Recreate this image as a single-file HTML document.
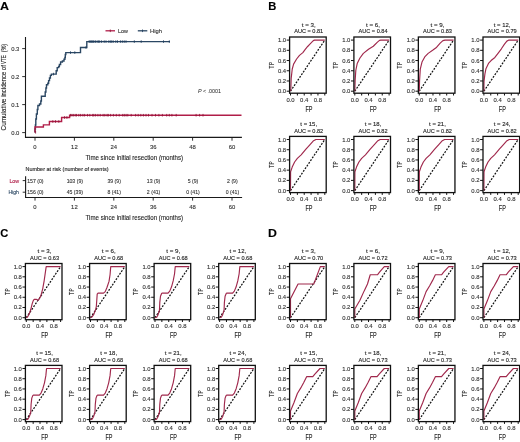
<!DOCTYPE html>
<html><head><meta charset="utf-8"><title>Figure</title>
<style>
html,body{margin:0;padding:0;background:#fff;}
body{width:520px;height:442px;overflow:hidden;}
svg{display:block;font-family:"Liberation Sans", sans-serif;filter:blur(0.3px);}
text{stroke-width:0.12px;paint-order:stroke;}
</style></head>
<body>
<svg width="520" height="442" viewBox="0 0 520 442">
<rect width="520" height="442" fill="#fff"/>
<text x="0" y="9.7" font-size="11.2" textLength="9" lengthAdjust="spacingAndGlyphs" font-weight="bold" fill="#000" stroke="#000">A</text>
<text x="268.3" y="9.8" font-size="11.2" font-weight="bold" fill="#000" stroke="#000">B</text>
<text x="0.2" y="236.6" font-size="11.2" font-weight="bold" fill="#000" stroke="#000">C</text>
<text x="268.1" y="236.6" font-size="11.2" textLength="8.9" lengthAdjust="spacingAndGlyphs" font-weight="bold" fill="#000" stroke="#000">D</text>
<path d="M25.5,37 V137.4 H241.9" fill="none" stroke="#1a1a1a" stroke-width="1.1"/>
<line x1="22.2" y1="132.6" x2="25.5" y2="132.6" stroke="#1a1a1a" stroke-width="0.9"/>
<text x="19.4" y="134.7" font-size="5.9" text-anchor="end" fill="#333" stroke="#333">0.0</text>
<line x1="22.2" y1="104.6" x2="25.5" y2="104.6" stroke="#1a1a1a" stroke-width="0.9"/>
<text x="19.4" y="106.7" font-size="5.9" text-anchor="end" fill="#333" stroke="#333">0.1</text>
<line x1="22.2" y1="76.6" x2="25.5" y2="76.6" stroke="#1a1a1a" stroke-width="0.9"/>
<text x="19.4" y="78.7" font-size="5.9" text-anchor="end" fill="#333" stroke="#333">0.2</text>
<line x1="22.2" y1="48.6" x2="25.5" y2="48.6" stroke="#1a1a1a" stroke-width="0.9"/>
<text x="19.4" y="50.7" font-size="5.9" text-anchor="end" fill="#333" stroke="#333">0.3</text>
<line x1="35" y1="137.4" x2="35" y2="140.7" stroke="#1a1a1a" stroke-width="0.9"/>
<text x="35" y="148.7" font-size="5.9" text-anchor="middle" fill="#333" stroke="#333">0</text>
<line x1="74.4" y1="137.4" x2="74.4" y2="140.7" stroke="#1a1a1a" stroke-width="0.9"/>
<text x="74.4" y="148.7" font-size="5.9" text-anchor="middle" fill="#333" stroke="#333">12</text>
<line x1="113.8" y1="137.4" x2="113.8" y2="140.7" stroke="#1a1a1a" stroke-width="0.9"/>
<text x="113.8" y="148.7" font-size="5.9" text-anchor="middle" fill="#333" stroke="#333">24</text>
<line x1="153.2" y1="137.4" x2="153.2" y2="140.7" stroke="#1a1a1a" stroke-width="0.9"/>
<text x="153.2" y="148.7" font-size="5.9" text-anchor="middle" fill="#333" stroke="#333">36</text>
<line x1="192.6" y1="137.4" x2="192.6" y2="140.7" stroke="#1a1a1a" stroke-width="0.9"/>
<text x="192.6" y="148.7" font-size="5.9" text-anchor="middle" fill="#333" stroke="#333">48</text>
<line x1="232" y1="137.4" x2="232" y2="140.7" stroke="#1a1a1a" stroke-width="0.9"/>
<text x="232" y="148.7" font-size="5.9" text-anchor="middle" fill="#333" stroke="#333">60</text>
<text x="85.5" y="159.6" font-size="8" textLength="97.6" lengthAdjust="spacingAndGlyphs" fill="#222" stroke="#222">Time since initial resection (months)</text>
<g transform="translate(6.3,130.5) rotate(-90)"><text x="0.1" y="0" font-size="7.4" textLength="31.8" lengthAdjust="spacingAndGlyphs" fill="#222" stroke="#222">Cumulative</text><text x="33.7" y="0" font-size="7.4" textLength="25.2" lengthAdjust="spacingAndGlyphs" fill="#222" stroke="#222">incidence</text><text x="60.3" y="0" font-size="7.4" textLength="5.2" lengthAdjust="spacingAndGlyphs" fill="#222" stroke="#222">of</text><text x="66.4" y="0" font-size="7.4" textLength="8.9" lengthAdjust="spacingAndGlyphs" fill="#222" stroke="#222">VTE</text><text x="78.2" y="0" font-size="7.4" textLength="8.5" lengthAdjust="spacingAndGlyphs" fill="#222" stroke="#222">(%)</text></g>
<path d="M35,132.6 V129 H35.4 V125 H35.8 V119 H36.4 V114 H37.3 V109.5 H37.9 V105.5 H39.5 V104 H40.8 V101 H41.4 V96.3 H45.2 V92 H45.9 V88 H46.5 V84.8 H47.8 V83.2 H48.6 V80.6 H49.5 V78 H50.4 V75.4 H51.4 V74.1 H56.2 V70.7 H57.2 V67.6 H58.6 V66.5 H59.4 V64.5 H60.6 V62 H62.4 V61 H64 V59.3 H64.9 V57.5 H65.3 V54.5 H65.8 V52.6 H80.5 V47.5 H86.8 V41.6 H170" fill="none" stroke="#2b4763" stroke-width="1.4"/>
<path d="M35,132.6 V127 H43.4 V124.9 H49.4 V121.5 H61.6 V117.5 H69.6 V115.2 H241.5" fill="none" stroke="#b01d48" stroke-width="1.4"/>
<line x1="89.1" y1="40.3" x2="89.1" y2="42.9" stroke="#1c3a5c" stroke-width="0.8"/>
<line x1="90.1" y1="40.3" x2="90.1" y2="42.9" stroke="#1c3a5c" stroke-width="0.8"/>
<line x1="91.1" y1="40.3" x2="91.1" y2="42.9" stroke="#1c3a5c" stroke-width="0.8"/>
<line x1="92" y1="40.3" x2="92" y2="42.9" stroke="#1c3a5c" stroke-width="0.8"/>
<line x1="93" y1="40.3" x2="93" y2="42.9" stroke="#1c3a5c" stroke-width="0.8"/>
<line x1="93.9" y1="40.3" x2="93.9" y2="42.9" stroke="#1c3a5c" stroke-width="0.8"/>
<line x1="95.4" y1="40.3" x2="95.4" y2="42.9" stroke="#1c3a5c" stroke-width="0.8"/>
<line x1="97.1" y1="40.3" x2="97.1" y2="42.9" stroke="#1c3a5c" stroke-width="0.8"/>
<line x1="98.4" y1="40.3" x2="98.4" y2="42.9" stroke="#1c3a5c" stroke-width="0.8"/>
<line x1="99.7" y1="40.3" x2="99.7" y2="42.9" stroke="#1c3a5c" stroke-width="0.8"/>
<line x1="101.6" y1="40.3" x2="101.6" y2="42.9" stroke="#1c3a5c" stroke-width="0.8"/>
<line x1="104.2" y1="40.3" x2="104.2" y2="42.9" stroke="#1c3a5c" stroke-width="0.8"/>
<line x1="106" y1="40.3" x2="106" y2="42.9" stroke="#1c3a5c" stroke-width="0.8"/>
<line x1="108.8" y1="40.3" x2="108.8" y2="42.9" stroke="#1c3a5c" stroke-width="0.8"/>
<line x1="110.3" y1="40.3" x2="110.3" y2="42.9" stroke="#1c3a5c" stroke-width="0.8"/>
<line x1="111.7" y1="40.3" x2="111.7" y2="42.9" stroke="#1c3a5c" stroke-width="0.8"/>
<line x1="113.2" y1="40.3" x2="113.2" y2="42.9" stroke="#1c3a5c" stroke-width="0.8"/>
<line x1="115.8" y1="40.3" x2="115.8" y2="42.9" stroke="#1c3a5c" stroke-width="0.8"/>
<line x1="117.5" y1="40.3" x2="117.5" y2="42.9" stroke="#1c3a5c" stroke-width="0.8"/>
<line x1="120.4" y1="40.3" x2="120.4" y2="42.9" stroke="#1c3a5c" stroke-width="0.8"/>
<line x1="122.3" y1="40.3" x2="122.3" y2="42.9" stroke="#1c3a5c" stroke-width="0.8"/>
<line x1="124.2" y1="40.3" x2="124.2" y2="42.9" stroke="#1c3a5c" stroke-width="0.8"/>
<line x1="126" y1="40.3" x2="126" y2="42.9" stroke="#1c3a5c" stroke-width="0.8"/>
<line x1="134.3" y1="40.3" x2="134.3" y2="42.9" stroke="#1c3a5c" stroke-width="0.8"/>
<line x1="141.2" y1="40.3" x2="141.2" y2="42.9" stroke="#1c3a5c" stroke-width="0.8"/>
<line x1="163.5" y1="40.3" x2="163.5" y2="42.9" stroke="#1c3a5c" stroke-width="0.8"/>
<line x1="169.3" y1="40.3" x2="169.3" y2="42.9" stroke="#1c3a5c" stroke-width="0.8"/>
<line x1="53.5" y1="72.8" x2="53.5" y2="75.4" stroke="#1c3a5c" stroke-width="0.8"/>
<line x1="70.5" y1="51.3" x2="70.5" y2="53.9" stroke="#1c3a5c" stroke-width="0.8"/>
<line x1="74.8" y1="51.3" x2="74.8" y2="53.9" stroke="#1c3a5c" stroke-width="0.8"/>
<line x1="86" y1="46.2" x2="86" y2="48.8" stroke="#1c3a5c" stroke-width="0.8"/>
<line x1="70.5" y1="113.9" x2="70.5" y2="116.5" stroke="#8e1233" stroke-width="0.8"/>
<line x1="71.9" y1="113.9" x2="71.9" y2="116.5" stroke="#8e1233" stroke-width="0.8"/>
<line x1="73.3" y1="113.9" x2="73.3" y2="116.5" stroke="#8e1233" stroke-width="0.8"/>
<line x1="75.2" y1="113.9" x2="75.2" y2="116.5" stroke="#8e1233" stroke-width="0.8"/>
<line x1="76.5" y1="113.9" x2="76.5" y2="116.5" stroke="#8e1233" stroke-width="0.8"/>
<line x1="78.8" y1="113.9" x2="78.8" y2="116.5" stroke="#8e1233" stroke-width="0.8"/>
<line x1="80.6" y1="113.9" x2="80.6" y2="116.5" stroke="#8e1233" stroke-width="0.8"/>
<line x1="82.9" y1="113.9" x2="82.9" y2="116.5" stroke="#8e1233" stroke-width="0.8"/>
<line x1="84.6" y1="113.9" x2="84.6" y2="116.5" stroke="#8e1233" stroke-width="0.8"/>
<line x1="87.5" y1="113.9" x2="87.5" y2="116.5" stroke="#8e1233" stroke-width="0.8"/>
<line x1="89.8" y1="113.9" x2="89.8" y2="116.5" stroke="#8e1233" stroke-width="0.8"/>
<line x1="92.7" y1="113.9" x2="92.7" y2="116.5" stroke="#8e1233" stroke-width="0.8"/>
<line x1="93.8" y1="113.9" x2="93.8" y2="116.5" stroke="#8e1233" stroke-width="0.8"/>
<line x1="95.6" y1="113.9" x2="95.6" y2="116.5" stroke="#8e1233" stroke-width="0.8"/>
<line x1="97.9" y1="113.9" x2="97.9" y2="116.5" stroke="#8e1233" stroke-width="0.8"/>
<line x1="100.2" y1="113.9" x2="100.2" y2="116.5" stroke="#8e1233" stroke-width="0.8"/>
<line x1="103.1" y1="113.9" x2="103.1" y2="116.5" stroke="#8e1233" stroke-width="0.8"/>
<line x1="104.8" y1="113.9" x2="104.8" y2="116.5" stroke="#8e1233" stroke-width="0.8"/>
<line x1="107.1" y1="113.9" x2="107.1" y2="116.5" stroke="#8e1233" stroke-width="0.8"/>
<line x1="108.3" y1="113.9" x2="108.3" y2="116.5" stroke="#8e1233" stroke-width="0.8"/>
<line x1="110.6" y1="113.9" x2="110.6" y2="116.5" stroke="#8e1233" stroke-width="0.8"/>
<line x1="113.4" y1="113.9" x2="113.4" y2="116.5" stroke="#8e1233" stroke-width="0.8"/>
<line x1="116.3" y1="113.9" x2="116.3" y2="116.5" stroke="#8e1233" stroke-width="0.8"/>
<line x1="119.2" y1="113.9" x2="119.2" y2="116.5" stroke="#8e1233" stroke-width="0.8"/>
<line x1="122.7" y1="113.9" x2="122.7" y2="116.5" stroke="#8e1233" stroke-width="0.8"/>
<line x1="124.3" y1="113.9" x2="124.3" y2="116.5" stroke="#8e1233" stroke-width="0.8"/>
<line x1="126.1" y1="113.9" x2="126.1" y2="116.5" stroke="#8e1233" stroke-width="0.8"/>
<line x1="127.8" y1="113.9" x2="127.8" y2="116.5" stroke="#8e1233" stroke-width="0.8"/>
<line x1="131.2" y1="113.9" x2="131.2" y2="116.5" stroke="#8e1233" stroke-width="0.8"/>
<line x1="135.6" y1="113.9" x2="135.6" y2="116.5" stroke="#8e1233" stroke-width="0.8"/>
<line x1="138.2" y1="113.9" x2="138.2" y2="116.5" stroke="#8e1233" stroke-width="0.8"/>
<line x1="140.8" y1="113.9" x2="140.8" y2="116.5" stroke="#8e1233" stroke-width="0.8"/>
<line x1="143.4" y1="113.9" x2="143.4" y2="116.5" stroke="#8e1233" stroke-width="0.8"/>
<line x1="146" y1="113.9" x2="146" y2="116.5" stroke="#8e1233" stroke-width="0.8"/>
<line x1="148.5" y1="113.9" x2="148.5" y2="116.5" stroke="#8e1233" stroke-width="0.8"/>
<line x1="152" y1="113.9" x2="152" y2="116.5" stroke="#8e1233" stroke-width="0.8"/>
<line x1="155.5" y1="113.9" x2="155.5" y2="116.5" stroke="#8e1233" stroke-width="0.8"/>
<line x1="158.9" y1="113.9" x2="158.9" y2="116.5" stroke="#8e1233" stroke-width="0.8"/>
<line x1="162.4" y1="113.9" x2="162.4" y2="116.5" stroke="#8e1233" stroke-width="0.8"/>
<line x1="166.7" y1="113.9" x2="166.7" y2="116.5" stroke="#8e1233" stroke-width="0.8"/>
<line x1="169.3" y1="113.9" x2="169.3" y2="116.5" stroke="#8e1233" stroke-width="0.8"/>
<line x1="171.9" y1="113.9" x2="171.9" y2="116.5" stroke="#8e1233" stroke-width="0.8"/>
<line x1="176.2" y1="113.9" x2="176.2" y2="116.5" stroke="#8e1233" stroke-width="0.8"/>
<line x1="196.1" y1="113.9" x2="196.1" y2="116.5" stroke="#8e1233" stroke-width="0.8"/>
<line x1="199.6" y1="113.9" x2="199.6" y2="116.5" stroke="#8e1233" stroke-width="0.8"/>
<line x1="203" y1="113.9" x2="203" y2="116.5" stroke="#8e1233" stroke-width="0.8"/>
<line x1="35.6" y1="131" x2="35.6" y2="133.6" stroke="#8e1233" stroke-width="0.8"/>
<line x1="52.8" y1="120.2" x2="52.8" y2="122.8" stroke="#8e1233" stroke-width="0.8"/>
<line x1="55.5" y1="120.2" x2="55.5" y2="122.8" stroke="#8e1233" stroke-width="0.8"/>
<line x1="58.8" y1="120.2" x2="58.8" y2="122.8" stroke="#8e1233" stroke-width="0.8"/>
<line x1="64.5" y1="116.2" x2="64.5" y2="118.8" stroke="#8e1233" stroke-width="0.8"/>
<line x1="66.9" y1="116.2" x2="66.9" y2="118.8" stroke="#8e1233" stroke-width="0.8"/>
<line x1="105.5" y1="30.8" x2="115" y2="30.8" stroke="#b01d48" stroke-width="1.3"/>
<line x1="110.3" y1="29.5" x2="110.3" y2="32.1" stroke="#8e1233" stroke-width="0.8"/>
<text x="118" y="32.8" font-size="5.6" textLength="9.8" lengthAdjust="spacingAndGlyphs" fill="#333" stroke="#333">Low</text>
<line x1="137.8" y1="30.8" x2="147.3" y2="30.8" stroke="#2b4763" stroke-width="1.3"/>
<line x1="142.5" y1="29.5" x2="142.5" y2="32.1" stroke="#1c3a5c" stroke-width="0.8"/>
<text x="150" y="32.8" font-size="5.6" textLength="12" lengthAdjust="spacingAndGlyphs" fill="#333" stroke="#333">High</text>
<text x="197.9" y="92.9" font-size="5.6" fill="#222" textLength="23.2" lengthAdjust="spacingAndGlyphs"><tspan font-style="italic">P</tspan> &lt; .0001</text>
<text x="25.5" y="170.8" font-size="5.6" textLength="83" lengthAdjust="spacingAndGlyphs" fill="#222" stroke="#222">Number at risk (number of events)</text>
<path d="M25.6,176.2 V197.5 H242.1" fill="none" stroke="#1a1a1a" stroke-width="1.1"/>
<line x1="22.7" y1="180.6" x2="25.6" y2="180.6" stroke="#1a1a1a" stroke-width="0.9"/>
<line x1="22.7" y1="192.2" x2="25.6" y2="192.2" stroke="#1a1a1a" stroke-width="0.9"/>
<text x="19.2" y="182.7" font-size="5.6" text-anchor="end" textLength="9.8" lengthAdjust="spacingAndGlyphs" fill="#b01d48" stroke="#b01d48">Low</text>
<text x="19" y="193.9" font-size="5.6" text-anchor="end" textLength="10.6" lengthAdjust="spacingAndGlyphs" fill="#2b4763" stroke="#2b4763">High</text>
<text x="35.4" y="182.7" font-size="6" text-anchor="middle" textLength="16.35" lengthAdjust="spacingAndGlyphs" fill="#333" stroke="#333">157 (0)</text>
<text x="35.4" y="193.7" font-size="6" text-anchor="middle" textLength="16.35" lengthAdjust="spacingAndGlyphs" fill="#333" stroke="#333">156 (0)</text>
<line x1="35" y1="197.5" x2="35" y2="200.6" stroke="#1a1a1a" stroke-width="0.9"/>
<text x="35" y="208.6" font-size="5.9" text-anchor="middle" fill="#333" stroke="#333">0</text>
<text x="74.8" y="182.7" font-size="6" text-anchor="middle" textLength="16.35" lengthAdjust="spacingAndGlyphs" fill="#333" stroke="#333">103 (9)</text>
<text x="74.8" y="193.7" font-size="6" text-anchor="middle" textLength="16.35" lengthAdjust="spacingAndGlyphs" fill="#333" stroke="#333">45 (39)</text>
<line x1="74.4" y1="197.5" x2="74.4" y2="200.6" stroke="#1a1a1a" stroke-width="0.9"/>
<text x="74.4" y="208.6" font-size="5.9" text-anchor="middle" fill="#333" stroke="#333">12</text>
<text x="114.2" y="182.7" font-size="6" text-anchor="middle" textLength="13.48" lengthAdjust="spacingAndGlyphs" fill="#333" stroke="#333">39 (9)</text>
<text x="114.2" y="193.7" font-size="6" text-anchor="middle" textLength="13.48" lengthAdjust="spacingAndGlyphs" fill="#333" stroke="#333">8 (41)</text>
<line x1="113.8" y1="197.5" x2="113.8" y2="200.6" stroke="#1a1a1a" stroke-width="0.9"/>
<text x="113.8" y="208.6" font-size="5.9" text-anchor="middle" fill="#333" stroke="#333">24</text>
<text x="153.6" y="182.7" font-size="6" text-anchor="middle" textLength="13.48" lengthAdjust="spacingAndGlyphs" fill="#333" stroke="#333">13 (9)</text>
<text x="153.6" y="193.7" font-size="6" text-anchor="middle" textLength="13.48" lengthAdjust="spacingAndGlyphs" fill="#333" stroke="#333">2 (41)</text>
<line x1="153.2" y1="197.5" x2="153.2" y2="200.6" stroke="#1a1a1a" stroke-width="0.9"/>
<text x="153.2" y="208.6" font-size="5.9" text-anchor="middle" fill="#333" stroke="#333">36</text>
<text x="193" y="182.7" font-size="6" text-anchor="middle" textLength="10.61" lengthAdjust="spacingAndGlyphs" fill="#333" stroke="#333">5 (9)</text>
<text x="193" y="193.7" font-size="6" text-anchor="middle" textLength="13.48" lengthAdjust="spacingAndGlyphs" fill="#333" stroke="#333">0 (41)</text>
<line x1="192.6" y1="197.5" x2="192.6" y2="200.6" stroke="#1a1a1a" stroke-width="0.9"/>
<text x="192.6" y="208.6" font-size="5.9" text-anchor="middle" fill="#333" stroke="#333">48</text>
<text x="232.4" y="182.7" font-size="6" text-anchor="middle" textLength="10.61" lengthAdjust="spacingAndGlyphs" fill="#333" stroke="#333">2 (9)</text>
<text x="232.4" y="193.7" font-size="6" text-anchor="middle" textLength="13.48" lengthAdjust="spacingAndGlyphs" fill="#333" stroke="#333">0 (41)</text>
<line x1="232" y1="197.5" x2="232" y2="200.6" stroke="#1a1a1a" stroke-width="0.9"/>
<text x="232" y="208.6" font-size="5.9" text-anchor="middle" fill="#333" stroke="#333">60</text>
<text x="85.6" y="219.6" font-size="8" textLength="97.4" lengthAdjust="spacingAndGlyphs" fill="#222" stroke="#222">Time since initial resection (months)</text>
<text x="308.7" y="26.7" font-size="5.6" text-anchor="middle" textLength="13.9" lengthAdjust="spacingAndGlyphs" fill="#222" stroke="#222">t = 3,</text>
<text x="308.7" y="33.4" font-size="5.6" text-anchor="middle" fill="#222" stroke="#222">AUC = 0.81</text>
<line x1="290.5" y1="91.2" x2="324.8" y2="40.1" stroke="#111" stroke-width="1.25" stroke-dasharray="1.9 1.35"/>
<path d="M290.5,91.2 L290.84,88.64 L291.19,78.42 L292.21,69.23 L293.59,64.12 L296.61,59.01 L299.49,55.43 L302.85,52.62 L305.25,49.3 L307.65,46.49 L310.39,43.68 L313.31,40.61 L314.51,40.1 L324.8,40.1" fill="none" stroke="#a0284c" stroke-width="1.15" stroke-linejoin="round"/>
<rect x="289.6" y="37" width="36.6" height="56.2" fill="none" stroke="#111" stroke-width="1.3"/>
<line x1="286.7" y1="91.2" x2="289.6" y2="91.2" stroke="#111" stroke-width="1"/>
<text x="286.1" y="93.2" font-size="5.9" text-anchor="end" fill="#333" stroke="#333">0.0</text>
<line x1="286.7" y1="80.98" x2="289.6" y2="80.98" stroke="#111" stroke-width="1"/>
<text x="286.1" y="82.98" font-size="5.9" text-anchor="end" fill="#333" stroke="#333">0.2</text>
<line x1="286.7" y1="70.76" x2="289.6" y2="70.76" stroke="#111" stroke-width="1"/>
<text x="286.1" y="72.76" font-size="5.9" text-anchor="end" fill="#333" stroke="#333">0.4</text>
<line x1="286.7" y1="60.54" x2="289.6" y2="60.54" stroke="#111" stroke-width="1"/>
<text x="286.1" y="62.54" font-size="5.9" text-anchor="end" fill="#333" stroke="#333">0.6</text>
<line x1="286.7" y1="50.32" x2="289.6" y2="50.32" stroke="#111" stroke-width="1"/>
<text x="286.1" y="52.32" font-size="5.9" text-anchor="end" fill="#333" stroke="#333">0.8</text>
<line x1="286.7" y1="40.1" x2="289.6" y2="40.1" stroke="#111" stroke-width="1"/>
<text x="286.1" y="42.1" font-size="5.9" text-anchor="end" fill="#333" stroke="#333">1.0</text>
<line x1="290.5" y1="93.2" x2="290.5" y2="95.5" stroke="#111" stroke-width="1"/>
<text x="290.5" y="101.6" font-size="5.9" text-anchor="middle" fill="#333" stroke="#333">0.0</text>
<line x1="297.36" y1="93.2" x2="297.36" y2="95.5" stroke="#111" stroke-width="1"/>
<line x1="304.22" y1="93.2" x2="304.22" y2="95.5" stroke="#111" stroke-width="1"/>
<text x="304.22" y="101.6" font-size="5.9" text-anchor="middle" fill="#333" stroke="#333">0.4</text>
<line x1="311.08" y1="93.2" x2="311.08" y2="95.5" stroke="#111" stroke-width="1"/>
<line x1="317.94" y1="93.2" x2="317.94" y2="95.5" stroke="#111" stroke-width="1"/>
<text x="317.94" y="101.6" font-size="5.9" text-anchor="middle" fill="#333" stroke="#333">0.8</text>
<line x1="324.8" y1="93.2" x2="324.8" y2="95.5" stroke="#111" stroke-width="1"/>
<text x="308.9" y="111.5" font-size="8.4" text-anchor="middle" textLength="7" lengthAdjust="spacingAndGlyphs" fill="#222" stroke="#222">FP</text>
<text transform="translate(273.7,65.1) rotate(-90)" font-size="7.9" text-anchor="middle" fill="#222" stroke="#222" textLength="6.6" lengthAdjust="spacingAndGlyphs">TP</text>
<text x="44.5" y="253.2" font-size="5.6" text-anchor="middle" textLength="13.9" lengthAdjust="spacingAndGlyphs" fill="#222" stroke="#222">t = 3,</text>
<text x="44.5" y="259.9" font-size="5.6" text-anchor="middle" fill="#222" stroke="#222">AUC = 0.63</text>
<line x1="26.3" y1="317.7" x2="60.6" y2="266.6" stroke="#111" stroke-width="1.25" stroke-dasharray="1.9 1.35"/>
<path d="M26.3,317.7 L27.67,316.68 L29.39,313.61 L30.76,309.52 L32.13,303.9 L33.16,300.84 L34.19,299.3 L36.25,299.3 L37.96,300.33 L39.33,298.79 L41.05,295.22 L42.76,288.57 L44.14,280.91 L46.19,266.6 L60.6,266.6" fill="none" stroke="#a0284c" stroke-width="1.15" stroke-linejoin="round"/>
<rect x="25.4" y="263.5" width="36.6" height="56.2" fill="none" stroke="#111" stroke-width="1.3"/>
<line x1="22.5" y1="317.7" x2="25.4" y2="317.7" stroke="#111" stroke-width="1"/>
<text x="21.9" y="319.7" font-size="5.9" text-anchor="end" fill="#333" stroke="#333">0.0</text>
<line x1="22.5" y1="307.48" x2="25.4" y2="307.48" stroke="#111" stroke-width="1"/>
<text x="21.9" y="309.48" font-size="5.9" text-anchor="end" fill="#333" stroke="#333">0.2</text>
<line x1="22.5" y1="297.26" x2="25.4" y2="297.26" stroke="#111" stroke-width="1"/>
<text x="21.9" y="299.26" font-size="5.9" text-anchor="end" fill="#333" stroke="#333">0.4</text>
<line x1="22.5" y1="287.04" x2="25.4" y2="287.04" stroke="#111" stroke-width="1"/>
<text x="21.9" y="289.04" font-size="5.9" text-anchor="end" fill="#333" stroke="#333">0.6</text>
<line x1="22.5" y1="276.82" x2="25.4" y2="276.82" stroke="#111" stroke-width="1"/>
<text x="21.9" y="278.82" font-size="5.9" text-anchor="end" fill="#333" stroke="#333">0.8</text>
<line x1="22.5" y1="266.6" x2="25.4" y2="266.6" stroke="#111" stroke-width="1"/>
<text x="21.9" y="268.6" font-size="5.9" text-anchor="end" fill="#333" stroke="#333">1.0</text>
<line x1="26.3" y1="319.7" x2="26.3" y2="322" stroke="#111" stroke-width="1"/>
<text x="26.3" y="328.1" font-size="5.9" text-anchor="middle" fill="#333" stroke="#333">0.0</text>
<line x1="33.16" y1="319.7" x2="33.16" y2="322" stroke="#111" stroke-width="1"/>
<line x1="40.02" y1="319.7" x2="40.02" y2="322" stroke="#111" stroke-width="1"/>
<text x="40.02" y="328.1" font-size="5.9" text-anchor="middle" fill="#333" stroke="#333">0.4</text>
<line x1="46.88" y1="319.7" x2="46.88" y2="322" stroke="#111" stroke-width="1"/>
<line x1="53.74" y1="319.7" x2="53.74" y2="322" stroke="#111" stroke-width="1"/>
<text x="53.74" y="328.1" font-size="5.9" text-anchor="middle" fill="#333" stroke="#333">0.8</text>
<line x1="60.6" y1="319.7" x2="60.6" y2="322" stroke="#111" stroke-width="1"/>
<text x="44.7" y="338" font-size="8.4" text-anchor="middle" textLength="7" lengthAdjust="spacingAndGlyphs" fill="#222" stroke="#222">FP</text>
<text transform="translate(9.5,291.6) rotate(-90)" font-size="7.9" text-anchor="middle" fill="#222" stroke="#222" textLength="6.6" lengthAdjust="spacingAndGlyphs">TP</text>
<text x="308.7" y="253.2" font-size="5.6" text-anchor="middle" textLength="13.9" lengthAdjust="spacingAndGlyphs" fill="#222" stroke="#222">t = 3,</text>
<text x="308.7" y="259.9" font-size="5.6" text-anchor="middle" fill="#222" stroke="#222">AUC = 0.70</text>
<line x1="290.5" y1="317.7" x2="324.8" y2="266.6" stroke="#111" stroke-width="1.25" stroke-dasharray="1.9 1.35"/>
<path d="M290.5,317.7 L290.5,298.79 L298.05,283.97 L313.82,283.97 L320.34,266.6 L324.8,266.6" fill="none" stroke="#a0284c" stroke-width="1.15" stroke-linejoin="round"/>
<rect x="289.6" y="263.5" width="36.6" height="56.2" fill="none" stroke="#111" stroke-width="1.3"/>
<line x1="286.7" y1="317.7" x2="289.6" y2="317.7" stroke="#111" stroke-width="1"/>
<text x="286.1" y="319.7" font-size="5.9" text-anchor="end" fill="#333" stroke="#333">0.0</text>
<line x1="286.7" y1="307.48" x2="289.6" y2="307.48" stroke="#111" stroke-width="1"/>
<text x="286.1" y="309.48" font-size="5.9" text-anchor="end" fill="#333" stroke="#333">0.2</text>
<line x1="286.7" y1="297.26" x2="289.6" y2="297.26" stroke="#111" stroke-width="1"/>
<text x="286.1" y="299.26" font-size="5.9" text-anchor="end" fill="#333" stroke="#333">0.4</text>
<line x1="286.7" y1="287.04" x2="289.6" y2="287.04" stroke="#111" stroke-width="1"/>
<text x="286.1" y="289.04" font-size="5.9" text-anchor="end" fill="#333" stroke="#333">0.6</text>
<line x1="286.7" y1="276.82" x2="289.6" y2="276.82" stroke="#111" stroke-width="1"/>
<text x="286.1" y="278.82" font-size="5.9" text-anchor="end" fill="#333" stroke="#333">0.8</text>
<line x1="286.7" y1="266.6" x2="289.6" y2="266.6" stroke="#111" stroke-width="1"/>
<text x="286.1" y="268.6" font-size="5.9" text-anchor="end" fill="#333" stroke="#333">1.0</text>
<line x1="290.5" y1="319.7" x2="290.5" y2="322" stroke="#111" stroke-width="1"/>
<text x="290.5" y="328.1" font-size="5.9" text-anchor="middle" fill="#333" stroke="#333">0.0</text>
<line x1="297.36" y1="319.7" x2="297.36" y2="322" stroke="#111" stroke-width="1"/>
<line x1="304.22" y1="319.7" x2="304.22" y2="322" stroke="#111" stroke-width="1"/>
<text x="304.22" y="328.1" font-size="5.9" text-anchor="middle" fill="#333" stroke="#333">0.4</text>
<line x1="311.08" y1="319.7" x2="311.08" y2="322" stroke="#111" stroke-width="1"/>
<line x1="317.94" y1="319.7" x2="317.94" y2="322" stroke="#111" stroke-width="1"/>
<text x="317.94" y="328.1" font-size="5.9" text-anchor="middle" fill="#333" stroke="#333">0.8</text>
<line x1="324.8" y1="319.7" x2="324.8" y2="322" stroke="#111" stroke-width="1"/>
<text x="308.9" y="338" font-size="8.4" text-anchor="middle" textLength="7" lengthAdjust="spacingAndGlyphs" fill="#222" stroke="#222">FP</text>
<text transform="translate(273.7,291.6) rotate(-90)" font-size="7.9" text-anchor="middle" fill="#222" stroke="#222" textLength="6.6" lengthAdjust="spacingAndGlyphs">TP</text>
<text x="373" y="26.7" font-size="5.6" text-anchor="middle" textLength="13.9" lengthAdjust="spacingAndGlyphs" fill="#222" stroke="#222">t = 6,</text>
<text x="373" y="33.4" font-size="5.6" text-anchor="middle" fill="#222" stroke="#222">AUC = 0.84</text>
<line x1="354.8" y1="91.2" x2="389.1" y2="40.1" stroke="#111" stroke-width="1.25" stroke-dasharray="1.9 1.35"/>
<path d="M354.8,91.2 L355.14,80.47 L355.83,70.25 L357.2,63.61 L359.94,57.98 L363.37,53.39 L368.52,49.3 L373.32,46.23 L377.44,42.14 L379.5,40.36 L380.87,40.1 L389.1,40.1" fill="none" stroke="#a0284c" stroke-width="1.15" stroke-linejoin="round"/>
<rect x="353.9" y="37" width="36.6" height="56.2" fill="none" stroke="#111" stroke-width="1.3"/>
<line x1="351" y1="91.2" x2="353.9" y2="91.2" stroke="#111" stroke-width="1"/>
<text x="350.4" y="93.2" font-size="5.9" text-anchor="end" fill="#333" stroke="#333">0.0</text>
<line x1="351" y1="80.98" x2="353.9" y2="80.98" stroke="#111" stroke-width="1"/>
<text x="350.4" y="82.98" font-size="5.9" text-anchor="end" fill="#333" stroke="#333">0.2</text>
<line x1="351" y1="70.76" x2="353.9" y2="70.76" stroke="#111" stroke-width="1"/>
<text x="350.4" y="72.76" font-size="5.9" text-anchor="end" fill="#333" stroke="#333">0.4</text>
<line x1="351" y1="60.54" x2="353.9" y2="60.54" stroke="#111" stroke-width="1"/>
<text x="350.4" y="62.54" font-size="5.9" text-anchor="end" fill="#333" stroke="#333">0.6</text>
<line x1="351" y1="50.32" x2="353.9" y2="50.32" stroke="#111" stroke-width="1"/>
<text x="350.4" y="52.32" font-size="5.9" text-anchor="end" fill="#333" stroke="#333">0.8</text>
<line x1="351" y1="40.1" x2="353.9" y2="40.1" stroke="#111" stroke-width="1"/>
<text x="350.4" y="42.1" font-size="5.9" text-anchor="end" fill="#333" stroke="#333">1.0</text>
<line x1="354.8" y1="93.2" x2="354.8" y2="95.5" stroke="#111" stroke-width="1"/>
<text x="354.8" y="101.6" font-size="5.9" text-anchor="middle" fill="#333" stroke="#333">0.0</text>
<line x1="361.66" y1="93.2" x2="361.66" y2="95.5" stroke="#111" stroke-width="1"/>
<line x1="368.52" y1="93.2" x2="368.52" y2="95.5" stroke="#111" stroke-width="1"/>
<text x="368.52" y="101.6" font-size="5.9" text-anchor="middle" fill="#333" stroke="#333">0.4</text>
<line x1="375.38" y1="93.2" x2="375.38" y2="95.5" stroke="#111" stroke-width="1"/>
<line x1="382.24" y1="93.2" x2="382.24" y2="95.5" stroke="#111" stroke-width="1"/>
<text x="382.24" y="101.6" font-size="5.9" text-anchor="middle" fill="#333" stroke="#333">0.8</text>
<line x1="389.1" y1="93.2" x2="389.1" y2="95.5" stroke="#111" stroke-width="1"/>
<text x="373.2" y="111.5" font-size="8.4" text-anchor="middle" textLength="7" lengthAdjust="spacingAndGlyphs" fill="#222" stroke="#222">FP</text>
<text transform="translate(338,65.1) rotate(-90)" font-size="7.9" text-anchor="middle" fill="#222" stroke="#222" textLength="6.6" lengthAdjust="spacingAndGlyphs">TP</text>
<text x="108.7" y="253.2" font-size="5.6" text-anchor="middle" textLength="13.9" lengthAdjust="spacingAndGlyphs" fill="#222" stroke="#222">t = 6,</text>
<text x="108.7" y="259.9" font-size="5.6" text-anchor="middle" fill="#222" stroke="#222">AUC = 0.68</text>
<line x1="90.5" y1="317.7" x2="124.8" y2="266.6" stroke="#111" stroke-width="1.25" stroke-dasharray="1.9 1.35"/>
<path d="M90.5,317.7 L92.22,316.68 L93.93,314.12 L95.64,309.52 L96.33,306.46 L96.85,299.3 L97.19,294.19 L98.05,293.17 L103.53,293.17 L105.25,291.64 L106.96,287.55 L109.02,281.42 L110.05,274.78 L110.74,266.6 L124.8,266.6" fill="none" stroke="#a0284c" stroke-width="1.15" stroke-linejoin="round"/>
<rect x="89.6" y="263.5" width="36.6" height="56.2" fill="none" stroke="#111" stroke-width="1.3"/>
<line x1="86.7" y1="317.7" x2="89.6" y2="317.7" stroke="#111" stroke-width="1"/>
<text x="86.1" y="319.7" font-size="5.9" text-anchor="end" fill="#333" stroke="#333">0.0</text>
<line x1="86.7" y1="307.48" x2="89.6" y2="307.48" stroke="#111" stroke-width="1"/>
<text x="86.1" y="309.48" font-size="5.9" text-anchor="end" fill="#333" stroke="#333">0.2</text>
<line x1="86.7" y1="297.26" x2="89.6" y2="297.26" stroke="#111" stroke-width="1"/>
<text x="86.1" y="299.26" font-size="5.9" text-anchor="end" fill="#333" stroke="#333">0.4</text>
<line x1="86.7" y1="287.04" x2="89.6" y2="287.04" stroke="#111" stroke-width="1"/>
<text x="86.1" y="289.04" font-size="5.9" text-anchor="end" fill="#333" stroke="#333">0.6</text>
<line x1="86.7" y1="276.82" x2="89.6" y2="276.82" stroke="#111" stroke-width="1"/>
<text x="86.1" y="278.82" font-size="5.9" text-anchor="end" fill="#333" stroke="#333">0.8</text>
<line x1="86.7" y1="266.6" x2="89.6" y2="266.6" stroke="#111" stroke-width="1"/>
<text x="86.1" y="268.6" font-size="5.9" text-anchor="end" fill="#333" stroke="#333">1.0</text>
<line x1="90.5" y1="319.7" x2="90.5" y2="322" stroke="#111" stroke-width="1"/>
<text x="90.5" y="328.1" font-size="5.9" text-anchor="middle" fill="#333" stroke="#333">0.0</text>
<line x1="97.36" y1="319.7" x2="97.36" y2="322" stroke="#111" stroke-width="1"/>
<line x1="104.22" y1="319.7" x2="104.22" y2="322" stroke="#111" stroke-width="1"/>
<text x="104.22" y="328.1" font-size="5.9" text-anchor="middle" fill="#333" stroke="#333">0.4</text>
<line x1="111.08" y1="319.7" x2="111.08" y2="322" stroke="#111" stroke-width="1"/>
<line x1="117.94" y1="319.7" x2="117.94" y2="322" stroke="#111" stroke-width="1"/>
<text x="117.94" y="328.1" font-size="5.9" text-anchor="middle" fill="#333" stroke="#333">0.8</text>
<line x1="124.8" y1="319.7" x2="124.8" y2="322" stroke="#111" stroke-width="1"/>
<text x="108.9" y="338" font-size="8.4" text-anchor="middle" textLength="7" lengthAdjust="spacingAndGlyphs" fill="#222" stroke="#222">FP</text>
<text transform="translate(73.7,291.6) rotate(-90)" font-size="7.9" text-anchor="middle" fill="#222" stroke="#222" textLength="6.6" lengthAdjust="spacingAndGlyphs">TP</text>
<text x="373" y="253.2" font-size="5.6" text-anchor="middle" textLength="13.9" lengthAdjust="spacingAndGlyphs" fill="#222" stroke="#222">t = 6,</text>
<text x="373" y="259.9" font-size="5.6" text-anchor="middle" fill="#222" stroke="#222">AUC = 0.72</text>
<line x1="354.8" y1="317.7" x2="389.1" y2="266.6" stroke="#111" stroke-width="1.25" stroke-dasharray="1.9 1.35"/>
<path d="M354.8,317.7 L354.8,309.01 L359.94,300.33 L364.06,291.13 L367.49,283.97 L370.23,274.78 L377.44,274.78 L379.5,272.22 L384.3,266.6 L389.1,266.6" fill="none" stroke="#a0284c" stroke-width="1.15" stroke-linejoin="round"/>
<rect x="353.9" y="263.5" width="36.6" height="56.2" fill="none" stroke="#111" stroke-width="1.3"/>
<line x1="351" y1="317.7" x2="353.9" y2="317.7" stroke="#111" stroke-width="1"/>
<text x="350.4" y="319.7" font-size="5.9" text-anchor="end" fill="#333" stroke="#333">0.0</text>
<line x1="351" y1="307.48" x2="353.9" y2="307.48" stroke="#111" stroke-width="1"/>
<text x="350.4" y="309.48" font-size="5.9" text-anchor="end" fill="#333" stroke="#333">0.2</text>
<line x1="351" y1="297.26" x2="353.9" y2="297.26" stroke="#111" stroke-width="1"/>
<text x="350.4" y="299.26" font-size="5.9" text-anchor="end" fill="#333" stroke="#333">0.4</text>
<line x1="351" y1="287.04" x2="353.9" y2="287.04" stroke="#111" stroke-width="1"/>
<text x="350.4" y="289.04" font-size="5.9" text-anchor="end" fill="#333" stroke="#333">0.6</text>
<line x1="351" y1="276.82" x2="353.9" y2="276.82" stroke="#111" stroke-width="1"/>
<text x="350.4" y="278.82" font-size="5.9" text-anchor="end" fill="#333" stroke="#333">0.8</text>
<line x1="351" y1="266.6" x2="353.9" y2="266.6" stroke="#111" stroke-width="1"/>
<text x="350.4" y="268.6" font-size="5.9" text-anchor="end" fill="#333" stroke="#333">1.0</text>
<line x1="354.8" y1="319.7" x2="354.8" y2="322" stroke="#111" stroke-width="1"/>
<text x="354.8" y="328.1" font-size="5.9" text-anchor="middle" fill="#333" stroke="#333">0.0</text>
<line x1="361.66" y1="319.7" x2="361.66" y2="322" stroke="#111" stroke-width="1"/>
<line x1="368.52" y1="319.7" x2="368.52" y2="322" stroke="#111" stroke-width="1"/>
<text x="368.52" y="328.1" font-size="5.9" text-anchor="middle" fill="#333" stroke="#333">0.4</text>
<line x1="375.38" y1="319.7" x2="375.38" y2="322" stroke="#111" stroke-width="1"/>
<line x1="382.24" y1="319.7" x2="382.24" y2="322" stroke="#111" stroke-width="1"/>
<text x="382.24" y="328.1" font-size="5.9" text-anchor="middle" fill="#333" stroke="#333">0.8</text>
<line x1="389.1" y1="319.7" x2="389.1" y2="322" stroke="#111" stroke-width="1"/>
<text x="373.2" y="338" font-size="8.4" text-anchor="middle" textLength="7" lengthAdjust="spacingAndGlyphs" fill="#222" stroke="#222">FP</text>
<text transform="translate(338,291.6) rotate(-90)" font-size="7.9" text-anchor="middle" fill="#222" stroke="#222" textLength="6.6" lengthAdjust="spacingAndGlyphs">TP</text>
<text x="437.45" y="26.7" font-size="5.6" text-anchor="middle" textLength="13.9" lengthAdjust="spacingAndGlyphs" fill="#222" stroke="#222">t = 9,</text>
<text x="437.45" y="33.4" font-size="5.6" text-anchor="middle" fill="#222" stroke="#222">AUC = 0.83</text>
<line x1="419.25" y1="91.2" x2="453.55" y2="40.1" stroke="#111" stroke-width="1.25" stroke-dasharray="1.9 1.35"/>
<path d="M419.25,91.2 L419.59,80.47 L420.28,69.23 L421.99,62.07 L424.74,56.96 L428.17,53.39 L432.63,50.32 L436.06,47.77 L440.17,43.17 L442.92,40.61 L444.98,40.1 L453.55,40.1" fill="none" stroke="#a0284c" stroke-width="1.15" stroke-linejoin="round"/>
<rect x="418.35" y="37" width="36.6" height="56.2" fill="none" stroke="#111" stroke-width="1.3"/>
<line x1="415.45" y1="91.2" x2="418.35" y2="91.2" stroke="#111" stroke-width="1"/>
<text x="414.85" y="93.2" font-size="5.9" text-anchor="end" fill="#333" stroke="#333">0.0</text>
<line x1="415.45" y1="80.98" x2="418.35" y2="80.98" stroke="#111" stroke-width="1"/>
<text x="414.85" y="82.98" font-size="5.9" text-anchor="end" fill="#333" stroke="#333">0.2</text>
<line x1="415.45" y1="70.76" x2="418.35" y2="70.76" stroke="#111" stroke-width="1"/>
<text x="414.85" y="72.76" font-size="5.9" text-anchor="end" fill="#333" stroke="#333">0.4</text>
<line x1="415.45" y1="60.54" x2="418.35" y2="60.54" stroke="#111" stroke-width="1"/>
<text x="414.85" y="62.54" font-size="5.9" text-anchor="end" fill="#333" stroke="#333">0.6</text>
<line x1="415.45" y1="50.32" x2="418.35" y2="50.32" stroke="#111" stroke-width="1"/>
<text x="414.85" y="52.32" font-size="5.9" text-anchor="end" fill="#333" stroke="#333">0.8</text>
<line x1="415.45" y1="40.1" x2="418.35" y2="40.1" stroke="#111" stroke-width="1"/>
<text x="414.85" y="42.1" font-size="5.9" text-anchor="end" fill="#333" stroke="#333">1.0</text>
<line x1="419.25" y1="93.2" x2="419.25" y2="95.5" stroke="#111" stroke-width="1"/>
<text x="419.25" y="101.6" font-size="5.9" text-anchor="middle" fill="#333" stroke="#333">0.0</text>
<line x1="426.11" y1="93.2" x2="426.11" y2="95.5" stroke="#111" stroke-width="1"/>
<line x1="432.97" y1="93.2" x2="432.97" y2="95.5" stroke="#111" stroke-width="1"/>
<text x="432.97" y="101.6" font-size="5.9" text-anchor="middle" fill="#333" stroke="#333">0.4</text>
<line x1="439.83" y1="93.2" x2="439.83" y2="95.5" stroke="#111" stroke-width="1"/>
<line x1="446.69" y1="93.2" x2="446.69" y2="95.5" stroke="#111" stroke-width="1"/>
<text x="446.69" y="101.6" font-size="5.9" text-anchor="middle" fill="#333" stroke="#333">0.8</text>
<line x1="453.55" y1="93.2" x2="453.55" y2="95.5" stroke="#111" stroke-width="1"/>
<text x="437.65" y="111.5" font-size="8.4" text-anchor="middle" textLength="7" lengthAdjust="spacingAndGlyphs" fill="#222" stroke="#222">FP</text>
<text transform="translate(402.45,65.1) rotate(-90)" font-size="7.9" text-anchor="middle" fill="#222" stroke="#222" textLength="6.6" lengthAdjust="spacingAndGlyphs">TP</text>
<text x="173.2" y="253.2" font-size="5.6" text-anchor="middle" textLength="13.9" lengthAdjust="spacingAndGlyphs" fill="#222" stroke="#222">t = 9,</text>
<text x="173.2" y="259.9" font-size="5.6" text-anchor="middle" fill="#222" stroke="#222">AUC = 0.68</text>
<line x1="155" y1="317.7" x2="189.3" y2="266.6" stroke="#111" stroke-width="1.25" stroke-dasharray="1.9 1.35"/>
<path d="M155,317.7 L156.72,317.19 L158.09,314.63 L159.46,310.29 L159.8,302.37 L160.49,296.24 L161.52,293.68 L162.03,293.17 L168.03,293.17 L169.75,291.13 L171.46,287.04 L173.18,280.91 L174.55,273.75 L175.24,266.6 L189.3,266.6" fill="none" stroke="#a0284c" stroke-width="1.15" stroke-linejoin="round"/>
<rect x="154.1" y="263.5" width="36.6" height="56.2" fill="none" stroke="#111" stroke-width="1.3"/>
<line x1="151.2" y1="317.7" x2="154.1" y2="317.7" stroke="#111" stroke-width="1"/>
<text x="150.6" y="319.7" font-size="5.9" text-anchor="end" fill="#333" stroke="#333">0.0</text>
<line x1="151.2" y1="307.48" x2="154.1" y2="307.48" stroke="#111" stroke-width="1"/>
<text x="150.6" y="309.48" font-size="5.9" text-anchor="end" fill="#333" stroke="#333">0.2</text>
<line x1="151.2" y1="297.26" x2="154.1" y2="297.26" stroke="#111" stroke-width="1"/>
<text x="150.6" y="299.26" font-size="5.9" text-anchor="end" fill="#333" stroke="#333">0.4</text>
<line x1="151.2" y1="287.04" x2="154.1" y2="287.04" stroke="#111" stroke-width="1"/>
<text x="150.6" y="289.04" font-size="5.9" text-anchor="end" fill="#333" stroke="#333">0.6</text>
<line x1="151.2" y1="276.82" x2="154.1" y2="276.82" stroke="#111" stroke-width="1"/>
<text x="150.6" y="278.82" font-size="5.9" text-anchor="end" fill="#333" stroke="#333">0.8</text>
<line x1="151.2" y1="266.6" x2="154.1" y2="266.6" stroke="#111" stroke-width="1"/>
<text x="150.6" y="268.6" font-size="5.9" text-anchor="end" fill="#333" stroke="#333">1.0</text>
<line x1="155" y1="319.7" x2="155" y2="322" stroke="#111" stroke-width="1"/>
<text x="155" y="328.1" font-size="5.9" text-anchor="middle" fill="#333" stroke="#333">0.0</text>
<line x1="161.86" y1="319.7" x2="161.86" y2="322" stroke="#111" stroke-width="1"/>
<line x1="168.72" y1="319.7" x2="168.72" y2="322" stroke="#111" stroke-width="1"/>
<text x="168.72" y="328.1" font-size="5.9" text-anchor="middle" fill="#333" stroke="#333">0.4</text>
<line x1="175.58" y1="319.7" x2="175.58" y2="322" stroke="#111" stroke-width="1"/>
<line x1="182.44" y1="319.7" x2="182.44" y2="322" stroke="#111" stroke-width="1"/>
<text x="182.44" y="328.1" font-size="5.9" text-anchor="middle" fill="#333" stroke="#333">0.8</text>
<line x1="189.3" y1="319.7" x2="189.3" y2="322" stroke="#111" stroke-width="1"/>
<text x="173.4" y="338" font-size="8.4" text-anchor="middle" textLength="7" lengthAdjust="spacingAndGlyphs" fill="#222" stroke="#222">FP</text>
<text transform="translate(138.2,291.6) rotate(-90)" font-size="7.9" text-anchor="middle" fill="#222" stroke="#222" textLength="6.6" lengthAdjust="spacingAndGlyphs">TP</text>
<text x="437.45" y="253.2" font-size="5.6" text-anchor="middle" textLength="13.9" lengthAdjust="spacingAndGlyphs" fill="#222" stroke="#222">t = 9,</text>
<text x="437.45" y="259.9" font-size="5.6" text-anchor="middle" fill="#222" stroke="#222">AUC = 0.73</text>
<line x1="419.25" y1="317.7" x2="453.55" y2="266.6" stroke="#111" stroke-width="1.25" stroke-dasharray="1.9 1.35"/>
<path d="M419.25,317.7 L419.25,309.01 L422.68,300.84 L426.11,291.64 L429.54,286.02 L432.63,280.4 L435.37,274.78 L441.55,274.78 L443.6,272.22 L448.75,266.6 L453.55,266.6" fill="none" stroke="#a0284c" stroke-width="1.15" stroke-linejoin="round"/>
<rect x="418.35" y="263.5" width="36.6" height="56.2" fill="none" stroke="#111" stroke-width="1.3"/>
<line x1="415.45" y1="317.7" x2="418.35" y2="317.7" stroke="#111" stroke-width="1"/>
<text x="414.85" y="319.7" font-size="5.9" text-anchor="end" fill="#333" stroke="#333">0.0</text>
<line x1="415.45" y1="307.48" x2="418.35" y2="307.48" stroke="#111" stroke-width="1"/>
<text x="414.85" y="309.48" font-size="5.9" text-anchor="end" fill="#333" stroke="#333">0.2</text>
<line x1="415.45" y1="297.26" x2="418.35" y2="297.26" stroke="#111" stroke-width="1"/>
<text x="414.85" y="299.26" font-size="5.9" text-anchor="end" fill="#333" stroke="#333">0.4</text>
<line x1="415.45" y1="287.04" x2="418.35" y2="287.04" stroke="#111" stroke-width="1"/>
<text x="414.85" y="289.04" font-size="5.9" text-anchor="end" fill="#333" stroke="#333">0.6</text>
<line x1="415.45" y1="276.82" x2="418.35" y2="276.82" stroke="#111" stroke-width="1"/>
<text x="414.85" y="278.82" font-size="5.9" text-anchor="end" fill="#333" stroke="#333">0.8</text>
<line x1="415.45" y1="266.6" x2="418.35" y2="266.6" stroke="#111" stroke-width="1"/>
<text x="414.85" y="268.6" font-size="5.9" text-anchor="end" fill="#333" stroke="#333">1.0</text>
<line x1="419.25" y1="319.7" x2="419.25" y2="322" stroke="#111" stroke-width="1"/>
<text x="419.25" y="328.1" font-size="5.9" text-anchor="middle" fill="#333" stroke="#333">0.0</text>
<line x1="426.11" y1="319.7" x2="426.11" y2="322" stroke="#111" stroke-width="1"/>
<line x1="432.97" y1="319.7" x2="432.97" y2="322" stroke="#111" stroke-width="1"/>
<text x="432.97" y="328.1" font-size="5.9" text-anchor="middle" fill="#333" stroke="#333">0.4</text>
<line x1="439.83" y1="319.7" x2="439.83" y2="322" stroke="#111" stroke-width="1"/>
<line x1="446.69" y1="319.7" x2="446.69" y2="322" stroke="#111" stroke-width="1"/>
<text x="446.69" y="328.1" font-size="5.9" text-anchor="middle" fill="#333" stroke="#333">0.8</text>
<line x1="453.55" y1="319.7" x2="453.55" y2="322" stroke="#111" stroke-width="1"/>
<text x="437.65" y="338" font-size="8.4" text-anchor="middle" textLength="7" lengthAdjust="spacingAndGlyphs" fill="#222" stroke="#222">FP</text>
<text transform="translate(402.45,291.6) rotate(-90)" font-size="7.9" text-anchor="middle" fill="#222" stroke="#222" textLength="6.6" lengthAdjust="spacingAndGlyphs">TP</text>
<text x="502.1" y="26.7" font-size="5.6" text-anchor="middle" textLength="16.7" lengthAdjust="spacingAndGlyphs" fill="#222" stroke="#222">t = 12,</text>
<text x="502.1" y="33.4" font-size="5.6" text-anchor="middle" fill="#222" stroke="#222">AUC = 0.79</text>
<line x1="483.9" y1="91.2" x2="518.2" y2="40.1" stroke="#111" stroke-width="1.25" stroke-dasharray="1.9 1.35"/>
<path d="M483.9,91.2 L484,81.49 L484.93,73.83 L485.96,68.72 L488.7,63.09 L491.1,60.54 L494.88,57.47 L497.62,53.9 L501.39,48.79 L504.48,44.19 L506.88,41.12 L508.94,40.1 L518.2,40.1" fill="none" stroke="#a0284c" stroke-width="1.15" stroke-linejoin="round"/>
<rect x="483" y="37" width="36.6" height="56.2" fill="none" stroke="#111" stroke-width="1.3"/>
<line x1="480.1" y1="91.2" x2="483" y2="91.2" stroke="#111" stroke-width="1"/>
<text x="479.5" y="93.2" font-size="5.9" text-anchor="end" fill="#333" stroke="#333">0.0</text>
<line x1="480.1" y1="80.98" x2="483" y2="80.98" stroke="#111" stroke-width="1"/>
<text x="479.5" y="82.98" font-size="5.9" text-anchor="end" fill="#333" stroke="#333">0.2</text>
<line x1="480.1" y1="70.76" x2="483" y2="70.76" stroke="#111" stroke-width="1"/>
<text x="479.5" y="72.76" font-size="5.9" text-anchor="end" fill="#333" stroke="#333">0.4</text>
<line x1="480.1" y1="60.54" x2="483" y2="60.54" stroke="#111" stroke-width="1"/>
<text x="479.5" y="62.54" font-size="5.9" text-anchor="end" fill="#333" stroke="#333">0.6</text>
<line x1="480.1" y1="50.32" x2="483" y2="50.32" stroke="#111" stroke-width="1"/>
<text x="479.5" y="52.32" font-size="5.9" text-anchor="end" fill="#333" stroke="#333">0.8</text>
<line x1="480.1" y1="40.1" x2="483" y2="40.1" stroke="#111" stroke-width="1"/>
<text x="479.5" y="42.1" font-size="5.9" text-anchor="end" fill="#333" stroke="#333">1.0</text>
<line x1="483.9" y1="93.2" x2="483.9" y2="95.5" stroke="#111" stroke-width="1"/>
<text x="483.9" y="101.6" font-size="5.9" text-anchor="middle" fill="#333" stroke="#333">0.0</text>
<line x1="490.76" y1="93.2" x2="490.76" y2="95.5" stroke="#111" stroke-width="1"/>
<line x1="497.62" y1="93.2" x2="497.62" y2="95.5" stroke="#111" stroke-width="1"/>
<text x="497.62" y="101.6" font-size="5.9" text-anchor="middle" fill="#333" stroke="#333">0.4</text>
<line x1="504.48" y1="93.2" x2="504.48" y2="95.5" stroke="#111" stroke-width="1"/>
<line x1="511.34" y1="93.2" x2="511.34" y2="95.5" stroke="#111" stroke-width="1"/>
<text x="511.34" y="101.6" font-size="5.9" text-anchor="middle" fill="#333" stroke="#333">0.8</text>
<line x1="518.2" y1="93.2" x2="518.2" y2="95.5" stroke="#111" stroke-width="1"/>
<text x="502.3" y="111.5" font-size="8.4" text-anchor="middle" textLength="7" lengthAdjust="spacingAndGlyphs" fill="#222" stroke="#222">FP</text>
<text transform="translate(467.1,65.1) rotate(-90)" font-size="7.9" text-anchor="middle" fill="#222" stroke="#222" textLength="6.6" lengthAdjust="spacingAndGlyphs">TP</text>
<text x="237.8" y="253.2" font-size="5.6" text-anchor="middle" textLength="16.7" lengthAdjust="spacingAndGlyphs" fill="#222" stroke="#222">t = 12,</text>
<text x="237.8" y="259.9" font-size="5.6" text-anchor="middle" fill="#222" stroke="#222">AUC = 0.68</text>
<line x1="219.6" y1="317.7" x2="253.9" y2="266.6" stroke="#111" stroke-width="1.25" stroke-dasharray="1.9 1.35"/>
<path d="M219.6,317.7 L221.31,317.19 L222.69,314.63 L224.06,310.29 L224.4,302.37 L225.09,296.24 L226.12,293.68 L226.63,293.17 L232.63,293.17 L234.35,291.13 L236.06,287.04 L237.78,280.91 L239.15,273.75 L239.84,266.6 L253.9,266.6" fill="none" stroke="#a0284c" stroke-width="1.15" stroke-linejoin="round"/>
<rect x="218.7" y="263.5" width="36.6" height="56.2" fill="none" stroke="#111" stroke-width="1.3"/>
<line x1="215.8" y1="317.7" x2="218.7" y2="317.7" stroke="#111" stroke-width="1"/>
<text x="215.2" y="319.7" font-size="5.9" text-anchor="end" fill="#333" stroke="#333">0.0</text>
<line x1="215.8" y1="307.48" x2="218.7" y2="307.48" stroke="#111" stroke-width="1"/>
<text x="215.2" y="309.48" font-size="5.9" text-anchor="end" fill="#333" stroke="#333">0.2</text>
<line x1="215.8" y1="297.26" x2="218.7" y2="297.26" stroke="#111" stroke-width="1"/>
<text x="215.2" y="299.26" font-size="5.9" text-anchor="end" fill="#333" stroke="#333">0.4</text>
<line x1="215.8" y1="287.04" x2="218.7" y2="287.04" stroke="#111" stroke-width="1"/>
<text x="215.2" y="289.04" font-size="5.9" text-anchor="end" fill="#333" stroke="#333">0.6</text>
<line x1="215.8" y1="276.82" x2="218.7" y2="276.82" stroke="#111" stroke-width="1"/>
<text x="215.2" y="278.82" font-size="5.9" text-anchor="end" fill="#333" stroke="#333">0.8</text>
<line x1="215.8" y1="266.6" x2="218.7" y2="266.6" stroke="#111" stroke-width="1"/>
<text x="215.2" y="268.6" font-size="5.9" text-anchor="end" fill="#333" stroke="#333">1.0</text>
<line x1="219.6" y1="319.7" x2="219.6" y2="322" stroke="#111" stroke-width="1"/>
<text x="219.6" y="328.1" font-size="5.9" text-anchor="middle" fill="#333" stroke="#333">0.0</text>
<line x1="226.46" y1="319.7" x2="226.46" y2="322" stroke="#111" stroke-width="1"/>
<line x1="233.32" y1="319.7" x2="233.32" y2="322" stroke="#111" stroke-width="1"/>
<text x="233.32" y="328.1" font-size="5.9" text-anchor="middle" fill="#333" stroke="#333">0.4</text>
<line x1="240.18" y1="319.7" x2="240.18" y2="322" stroke="#111" stroke-width="1"/>
<line x1="247.04" y1="319.7" x2="247.04" y2="322" stroke="#111" stroke-width="1"/>
<text x="247.04" y="328.1" font-size="5.9" text-anchor="middle" fill="#333" stroke="#333">0.8</text>
<line x1="253.9" y1="319.7" x2="253.9" y2="322" stroke="#111" stroke-width="1"/>
<text x="238" y="338" font-size="8.4" text-anchor="middle" textLength="7" lengthAdjust="spacingAndGlyphs" fill="#222" stroke="#222">FP</text>
<text transform="translate(202.8,291.6) rotate(-90)" font-size="7.9" text-anchor="middle" fill="#222" stroke="#222" textLength="6.6" lengthAdjust="spacingAndGlyphs">TP</text>
<text x="502.1" y="253.2" font-size="5.6" text-anchor="middle" textLength="16.7" lengthAdjust="spacingAndGlyphs" fill="#222" stroke="#222">t = 12,</text>
<text x="502.1" y="259.9" font-size="5.6" text-anchor="middle" fill="#222" stroke="#222">AUC = 0.73</text>
<line x1="483.9" y1="317.7" x2="518.2" y2="266.6" stroke="#111" stroke-width="1.25" stroke-dasharray="1.9 1.35"/>
<path d="M483.9,317.7 L483.9,309.01 L487.33,300.84 L490.76,291.64 L494.19,286.02 L497.28,280.4 L500.02,274.78 L506.19,274.78 L508.25,272.22 L513.4,266.6 L518.2,266.6" fill="none" stroke="#a0284c" stroke-width="1.15" stroke-linejoin="round"/>
<rect x="483" y="263.5" width="36.6" height="56.2" fill="none" stroke="#111" stroke-width="1.3"/>
<line x1="480.1" y1="317.7" x2="483" y2="317.7" stroke="#111" stroke-width="1"/>
<text x="479.5" y="319.7" font-size="5.9" text-anchor="end" fill="#333" stroke="#333">0.0</text>
<line x1="480.1" y1="307.48" x2="483" y2="307.48" stroke="#111" stroke-width="1"/>
<text x="479.5" y="309.48" font-size="5.9" text-anchor="end" fill="#333" stroke="#333">0.2</text>
<line x1="480.1" y1="297.26" x2="483" y2="297.26" stroke="#111" stroke-width="1"/>
<text x="479.5" y="299.26" font-size="5.9" text-anchor="end" fill="#333" stroke="#333">0.4</text>
<line x1="480.1" y1="287.04" x2="483" y2="287.04" stroke="#111" stroke-width="1"/>
<text x="479.5" y="289.04" font-size="5.9" text-anchor="end" fill="#333" stroke="#333">0.6</text>
<line x1="480.1" y1="276.82" x2="483" y2="276.82" stroke="#111" stroke-width="1"/>
<text x="479.5" y="278.82" font-size="5.9" text-anchor="end" fill="#333" stroke="#333">0.8</text>
<line x1="480.1" y1="266.6" x2="483" y2="266.6" stroke="#111" stroke-width="1"/>
<text x="479.5" y="268.6" font-size="5.9" text-anchor="end" fill="#333" stroke="#333">1.0</text>
<line x1="483.9" y1="319.7" x2="483.9" y2="322" stroke="#111" stroke-width="1"/>
<text x="483.9" y="328.1" font-size="5.9" text-anchor="middle" fill="#333" stroke="#333">0.0</text>
<line x1="490.76" y1="319.7" x2="490.76" y2="322" stroke="#111" stroke-width="1"/>
<line x1="497.62" y1="319.7" x2="497.62" y2="322" stroke="#111" stroke-width="1"/>
<text x="497.62" y="328.1" font-size="5.9" text-anchor="middle" fill="#333" stroke="#333">0.4</text>
<line x1="504.48" y1="319.7" x2="504.48" y2="322" stroke="#111" stroke-width="1"/>
<line x1="511.34" y1="319.7" x2="511.34" y2="322" stroke="#111" stroke-width="1"/>
<text x="511.34" y="328.1" font-size="5.9" text-anchor="middle" fill="#333" stroke="#333">0.8</text>
<line x1="518.2" y1="319.7" x2="518.2" y2="322" stroke="#111" stroke-width="1"/>
<text x="502.3" y="338" font-size="8.4" text-anchor="middle" textLength="7" lengthAdjust="spacingAndGlyphs" fill="#222" stroke="#222">FP</text>
<text transform="translate(467.1,291.6) rotate(-90)" font-size="7.9" text-anchor="middle" fill="#222" stroke="#222" textLength="6.6" lengthAdjust="spacingAndGlyphs">TP</text>
<text x="308.7" y="126.1" font-size="5.6" text-anchor="middle" textLength="16.7" lengthAdjust="spacingAndGlyphs" fill="#222" stroke="#222">t = 15,</text>
<text x="308.7" y="132.8" font-size="5.6" text-anchor="middle" fill="#222" stroke="#222">AUC = 0.82</text>
<line x1="290.5" y1="190.6" x2="324.8" y2="139.5" stroke="#111" stroke-width="1.25" stroke-dasharray="1.9 1.35"/>
<path d="M290.5,190.6 L290.6,171.69 L292.21,167.09 L294.62,161.98 L297.36,158.41 L301.13,154.83 L305.94,149.21 L310.05,144.61 L313.14,141.03 L315.88,139.5 L324.8,139.5" fill="none" stroke="#a0284c" stroke-width="1.15" stroke-linejoin="round"/>
<rect x="289.6" y="136.4" width="36.6" height="56.2" fill="none" stroke="#111" stroke-width="1.3"/>
<line x1="286.7" y1="190.6" x2="289.6" y2="190.6" stroke="#111" stroke-width="1"/>
<text x="286.1" y="192.6" font-size="5.9" text-anchor="end" fill="#333" stroke="#333">0.0</text>
<line x1="286.7" y1="180.38" x2="289.6" y2="180.38" stroke="#111" stroke-width="1"/>
<text x="286.1" y="182.38" font-size="5.9" text-anchor="end" fill="#333" stroke="#333">0.2</text>
<line x1="286.7" y1="170.16" x2="289.6" y2="170.16" stroke="#111" stroke-width="1"/>
<text x="286.1" y="172.16" font-size="5.9" text-anchor="end" fill="#333" stroke="#333">0.4</text>
<line x1="286.7" y1="159.94" x2="289.6" y2="159.94" stroke="#111" stroke-width="1"/>
<text x="286.1" y="161.94" font-size="5.9" text-anchor="end" fill="#333" stroke="#333">0.6</text>
<line x1="286.7" y1="149.72" x2="289.6" y2="149.72" stroke="#111" stroke-width="1"/>
<text x="286.1" y="151.72" font-size="5.9" text-anchor="end" fill="#333" stroke="#333">0.8</text>
<line x1="286.7" y1="139.5" x2="289.6" y2="139.5" stroke="#111" stroke-width="1"/>
<text x="286.1" y="141.5" font-size="5.9" text-anchor="end" fill="#333" stroke="#333">1.0</text>
<line x1="290.5" y1="192.6" x2="290.5" y2="194.9" stroke="#111" stroke-width="1"/>
<text x="290.5" y="201" font-size="5.9" text-anchor="middle" fill="#333" stroke="#333">0.0</text>
<line x1="297.36" y1="192.6" x2="297.36" y2="194.9" stroke="#111" stroke-width="1"/>
<line x1="304.22" y1="192.6" x2="304.22" y2="194.9" stroke="#111" stroke-width="1"/>
<text x="304.22" y="201" font-size="5.9" text-anchor="middle" fill="#333" stroke="#333">0.4</text>
<line x1="311.08" y1="192.6" x2="311.08" y2="194.9" stroke="#111" stroke-width="1"/>
<line x1="317.94" y1="192.6" x2="317.94" y2="194.9" stroke="#111" stroke-width="1"/>
<text x="317.94" y="201" font-size="5.9" text-anchor="middle" fill="#333" stroke="#333">0.8</text>
<line x1="324.8" y1="192.6" x2="324.8" y2="194.9" stroke="#111" stroke-width="1"/>
<text x="308.9" y="210.9" font-size="8.4" text-anchor="middle" textLength="7" lengthAdjust="spacingAndGlyphs" fill="#222" stroke="#222">FP</text>
<text transform="translate(273.7,164.5) rotate(-90)" font-size="7.9" text-anchor="middle" fill="#222" stroke="#222" textLength="6.6" lengthAdjust="spacingAndGlyphs">TP</text>
<text x="44.5" y="355.1" font-size="5.6" text-anchor="middle" textLength="16.7" lengthAdjust="spacingAndGlyphs" fill="#222" stroke="#222">t = 15,</text>
<text x="44.5" y="361.8" font-size="5.6" text-anchor="middle" fill="#222" stroke="#222">AUC = 0.68</text>
<line x1="26.3" y1="419.6" x2="60.6" y2="368.5" stroke="#111" stroke-width="1.25" stroke-dasharray="1.9 1.35"/>
<path d="M26.3,419.6 L28.01,419.09 L29.39,416.53 L30.76,412.19 L31.1,404.27 L31.79,398.14 L32.82,395.58 L33.33,395.07 L39.33,395.07 L41.05,393.03 L42.76,388.94 L44.48,382.81 L45.85,375.65 L46.54,368.5 L60.6,368.5" fill="none" stroke="#a0284c" stroke-width="1.15" stroke-linejoin="round"/>
<rect x="25.4" y="365.4" width="36.6" height="56.2" fill="none" stroke="#111" stroke-width="1.3"/>
<line x1="22.5" y1="419.6" x2="25.4" y2="419.6" stroke="#111" stroke-width="1"/>
<text x="21.9" y="421.6" font-size="5.9" text-anchor="end" fill="#333" stroke="#333">0.0</text>
<line x1="22.5" y1="409.38" x2="25.4" y2="409.38" stroke="#111" stroke-width="1"/>
<text x="21.9" y="411.38" font-size="5.9" text-anchor="end" fill="#333" stroke="#333">0.2</text>
<line x1="22.5" y1="399.16" x2="25.4" y2="399.16" stroke="#111" stroke-width="1"/>
<text x="21.9" y="401.16" font-size="5.9" text-anchor="end" fill="#333" stroke="#333">0.4</text>
<line x1="22.5" y1="388.94" x2="25.4" y2="388.94" stroke="#111" stroke-width="1"/>
<text x="21.9" y="390.94" font-size="5.9" text-anchor="end" fill="#333" stroke="#333">0.6</text>
<line x1="22.5" y1="378.72" x2="25.4" y2="378.72" stroke="#111" stroke-width="1"/>
<text x="21.9" y="380.72" font-size="5.9" text-anchor="end" fill="#333" stroke="#333">0.8</text>
<line x1="22.5" y1="368.5" x2="25.4" y2="368.5" stroke="#111" stroke-width="1"/>
<text x="21.9" y="370.5" font-size="5.9" text-anchor="end" fill="#333" stroke="#333">1.0</text>
<line x1="26.3" y1="421.6" x2="26.3" y2="423.9" stroke="#111" stroke-width="1"/>
<text x="26.3" y="430" font-size="5.9" text-anchor="middle" fill="#333" stroke="#333">0.0</text>
<line x1="33.16" y1="421.6" x2="33.16" y2="423.9" stroke="#111" stroke-width="1"/>
<line x1="40.02" y1="421.6" x2="40.02" y2="423.9" stroke="#111" stroke-width="1"/>
<text x="40.02" y="430" font-size="5.9" text-anchor="middle" fill="#333" stroke="#333">0.4</text>
<line x1="46.88" y1="421.6" x2="46.88" y2="423.9" stroke="#111" stroke-width="1"/>
<line x1="53.74" y1="421.6" x2="53.74" y2="423.9" stroke="#111" stroke-width="1"/>
<text x="53.74" y="430" font-size="5.9" text-anchor="middle" fill="#333" stroke="#333">0.8</text>
<line x1="60.6" y1="421.6" x2="60.6" y2="423.9" stroke="#111" stroke-width="1"/>
<text x="44.7" y="439.9" font-size="8.4" text-anchor="middle" textLength="7" lengthAdjust="spacingAndGlyphs" fill="#222" stroke="#222">FP</text>
<text transform="translate(9.5,393.5) rotate(-90)" font-size="7.9" text-anchor="middle" fill="#222" stroke="#222" textLength="6.6" lengthAdjust="spacingAndGlyphs">TP</text>
<text x="308.7" y="355.1" font-size="5.6" text-anchor="middle" textLength="16.7" lengthAdjust="spacingAndGlyphs" fill="#222" stroke="#222">t = 15,</text>
<text x="308.7" y="361.8" font-size="5.6" text-anchor="middle" fill="#222" stroke="#222">AUC = 0.73</text>
<line x1="290.5" y1="419.6" x2="324.8" y2="368.5" stroke="#111" stroke-width="1.25" stroke-dasharray="1.9 1.35"/>
<path d="M290.5,419.6 L290.5,410.91 L293.93,402.74 L297.36,393.54 L300.79,387.92 L303.88,382.3 L306.62,376.68 L312.8,376.68 L314.85,374.12 L320,368.5 L324.8,368.5" fill="none" stroke="#a0284c" stroke-width="1.15" stroke-linejoin="round"/>
<rect x="289.6" y="365.4" width="36.6" height="56.2" fill="none" stroke="#111" stroke-width="1.3"/>
<line x1="286.7" y1="419.6" x2="289.6" y2="419.6" stroke="#111" stroke-width="1"/>
<text x="286.1" y="421.6" font-size="5.9" text-anchor="end" fill="#333" stroke="#333">0.0</text>
<line x1="286.7" y1="409.38" x2="289.6" y2="409.38" stroke="#111" stroke-width="1"/>
<text x="286.1" y="411.38" font-size="5.9" text-anchor="end" fill="#333" stroke="#333">0.2</text>
<line x1="286.7" y1="399.16" x2="289.6" y2="399.16" stroke="#111" stroke-width="1"/>
<text x="286.1" y="401.16" font-size="5.9" text-anchor="end" fill="#333" stroke="#333">0.4</text>
<line x1="286.7" y1="388.94" x2="289.6" y2="388.94" stroke="#111" stroke-width="1"/>
<text x="286.1" y="390.94" font-size="5.9" text-anchor="end" fill="#333" stroke="#333">0.6</text>
<line x1="286.7" y1="378.72" x2="289.6" y2="378.72" stroke="#111" stroke-width="1"/>
<text x="286.1" y="380.72" font-size="5.9" text-anchor="end" fill="#333" stroke="#333">0.8</text>
<line x1="286.7" y1="368.5" x2="289.6" y2="368.5" stroke="#111" stroke-width="1"/>
<text x="286.1" y="370.5" font-size="5.9" text-anchor="end" fill="#333" stroke="#333">1.0</text>
<line x1="290.5" y1="421.6" x2="290.5" y2="423.9" stroke="#111" stroke-width="1"/>
<text x="290.5" y="430" font-size="5.9" text-anchor="middle" fill="#333" stroke="#333">0.0</text>
<line x1="297.36" y1="421.6" x2="297.36" y2="423.9" stroke="#111" stroke-width="1"/>
<line x1="304.22" y1="421.6" x2="304.22" y2="423.9" stroke="#111" stroke-width="1"/>
<text x="304.22" y="430" font-size="5.9" text-anchor="middle" fill="#333" stroke="#333">0.4</text>
<line x1="311.08" y1="421.6" x2="311.08" y2="423.9" stroke="#111" stroke-width="1"/>
<line x1="317.94" y1="421.6" x2="317.94" y2="423.9" stroke="#111" stroke-width="1"/>
<text x="317.94" y="430" font-size="5.9" text-anchor="middle" fill="#333" stroke="#333">0.8</text>
<line x1="324.8" y1="421.6" x2="324.8" y2="423.9" stroke="#111" stroke-width="1"/>
<text x="308.9" y="439.9" font-size="8.4" text-anchor="middle" textLength="7" lengthAdjust="spacingAndGlyphs" fill="#222" stroke="#222">FP</text>
<text transform="translate(273.7,393.5) rotate(-90)" font-size="7.9" text-anchor="middle" fill="#222" stroke="#222" textLength="6.6" lengthAdjust="spacingAndGlyphs">TP</text>
<text x="373" y="126.1" font-size="5.6" text-anchor="middle" textLength="16.7" lengthAdjust="spacingAndGlyphs" fill="#222" stroke="#222">t = 18,</text>
<text x="373" y="132.8" font-size="5.6" text-anchor="middle" fill="#222" stroke="#222">AUC = 0.82</text>
<line x1="354.8" y1="190.6" x2="389.1" y2="139.5" stroke="#111" stroke-width="1.25" stroke-dasharray="1.9 1.35"/>
<path d="M354.8,190.6 L354.9,171.69 L356.51,167.09 L358.92,161.98 L361.66,158.41 L365.43,154.83 L370.23,149.21 L374.35,144.61 L377.44,141.03 L380.18,139.5 L389.1,139.5" fill="none" stroke="#a0284c" stroke-width="1.15" stroke-linejoin="round"/>
<rect x="353.9" y="136.4" width="36.6" height="56.2" fill="none" stroke="#111" stroke-width="1.3"/>
<line x1="351" y1="190.6" x2="353.9" y2="190.6" stroke="#111" stroke-width="1"/>
<text x="350.4" y="192.6" font-size="5.9" text-anchor="end" fill="#333" stroke="#333">0.0</text>
<line x1="351" y1="180.38" x2="353.9" y2="180.38" stroke="#111" stroke-width="1"/>
<text x="350.4" y="182.38" font-size="5.9" text-anchor="end" fill="#333" stroke="#333">0.2</text>
<line x1="351" y1="170.16" x2="353.9" y2="170.16" stroke="#111" stroke-width="1"/>
<text x="350.4" y="172.16" font-size="5.9" text-anchor="end" fill="#333" stroke="#333">0.4</text>
<line x1="351" y1="159.94" x2="353.9" y2="159.94" stroke="#111" stroke-width="1"/>
<text x="350.4" y="161.94" font-size="5.9" text-anchor="end" fill="#333" stroke="#333">0.6</text>
<line x1="351" y1="149.72" x2="353.9" y2="149.72" stroke="#111" stroke-width="1"/>
<text x="350.4" y="151.72" font-size="5.9" text-anchor="end" fill="#333" stroke="#333">0.8</text>
<line x1="351" y1="139.5" x2="353.9" y2="139.5" stroke="#111" stroke-width="1"/>
<text x="350.4" y="141.5" font-size="5.9" text-anchor="end" fill="#333" stroke="#333">1.0</text>
<line x1="354.8" y1="192.6" x2="354.8" y2="194.9" stroke="#111" stroke-width="1"/>
<text x="354.8" y="201" font-size="5.9" text-anchor="middle" fill="#333" stroke="#333">0.0</text>
<line x1="361.66" y1="192.6" x2="361.66" y2="194.9" stroke="#111" stroke-width="1"/>
<line x1="368.52" y1="192.6" x2="368.52" y2="194.9" stroke="#111" stroke-width="1"/>
<text x="368.52" y="201" font-size="5.9" text-anchor="middle" fill="#333" stroke="#333">0.4</text>
<line x1="375.38" y1="192.6" x2="375.38" y2="194.9" stroke="#111" stroke-width="1"/>
<line x1="382.24" y1="192.6" x2="382.24" y2="194.9" stroke="#111" stroke-width="1"/>
<text x="382.24" y="201" font-size="5.9" text-anchor="middle" fill="#333" stroke="#333">0.8</text>
<line x1="389.1" y1="192.6" x2="389.1" y2="194.9" stroke="#111" stroke-width="1"/>
<text x="373.2" y="210.9" font-size="8.4" text-anchor="middle" textLength="7" lengthAdjust="spacingAndGlyphs" fill="#222" stroke="#222">FP</text>
<text transform="translate(338,164.5) rotate(-90)" font-size="7.9" text-anchor="middle" fill="#222" stroke="#222" textLength="6.6" lengthAdjust="spacingAndGlyphs">TP</text>
<text x="108.7" y="355.1" font-size="5.6" text-anchor="middle" textLength="16.7" lengthAdjust="spacingAndGlyphs" fill="#222" stroke="#222">t = 18,</text>
<text x="108.7" y="361.8" font-size="5.6" text-anchor="middle" fill="#222" stroke="#222">AUC = 0.68</text>
<line x1="90.5" y1="419.6" x2="124.8" y2="368.5" stroke="#111" stroke-width="1.25" stroke-dasharray="1.9 1.35"/>
<path d="M90.5,419.6 L92.22,419.09 L93.59,416.53 L94.96,412.19 L95.3,404.27 L95.99,398.14 L97.02,395.58 L97.53,395.07 L103.53,395.07 L105.25,393.03 L106.96,388.94 L108.68,382.81 L110.05,375.65 L110.74,368.5 L124.8,368.5" fill="none" stroke="#a0284c" stroke-width="1.15" stroke-linejoin="round"/>
<rect x="89.6" y="365.4" width="36.6" height="56.2" fill="none" stroke="#111" stroke-width="1.3"/>
<line x1="86.7" y1="419.6" x2="89.6" y2="419.6" stroke="#111" stroke-width="1"/>
<text x="86.1" y="421.6" font-size="5.9" text-anchor="end" fill="#333" stroke="#333">0.0</text>
<line x1="86.7" y1="409.38" x2="89.6" y2="409.38" stroke="#111" stroke-width="1"/>
<text x="86.1" y="411.38" font-size="5.9" text-anchor="end" fill="#333" stroke="#333">0.2</text>
<line x1="86.7" y1="399.16" x2="89.6" y2="399.16" stroke="#111" stroke-width="1"/>
<text x="86.1" y="401.16" font-size="5.9" text-anchor="end" fill="#333" stroke="#333">0.4</text>
<line x1="86.7" y1="388.94" x2="89.6" y2="388.94" stroke="#111" stroke-width="1"/>
<text x="86.1" y="390.94" font-size="5.9" text-anchor="end" fill="#333" stroke="#333">0.6</text>
<line x1="86.7" y1="378.72" x2="89.6" y2="378.72" stroke="#111" stroke-width="1"/>
<text x="86.1" y="380.72" font-size="5.9" text-anchor="end" fill="#333" stroke="#333">0.8</text>
<line x1="86.7" y1="368.5" x2="89.6" y2="368.5" stroke="#111" stroke-width="1"/>
<text x="86.1" y="370.5" font-size="5.9" text-anchor="end" fill="#333" stroke="#333">1.0</text>
<line x1="90.5" y1="421.6" x2="90.5" y2="423.9" stroke="#111" stroke-width="1"/>
<text x="90.5" y="430" font-size="5.9" text-anchor="middle" fill="#333" stroke="#333">0.0</text>
<line x1="97.36" y1="421.6" x2="97.36" y2="423.9" stroke="#111" stroke-width="1"/>
<line x1="104.22" y1="421.6" x2="104.22" y2="423.9" stroke="#111" stroke-width="1"/>
<text x="104.22" y="430" font-size="5.9" text-anchor="middle" fill="#333" stroke="#333">0.4</text>
<line x1="111.08" y1="421.6" x2="111.08" y2="423.9" stroke="#111" stroke-width="1"/>
<line x1="117.94" y1="421.6" x2="117.94" y2="423.9" stroke="#111" stroke-width="1"/>
<text x="117.94" y="430" font-size="5.9" text-anchor="middle" fill="#333" stroke="#333">0.8</text>
<line x1="124.8" y1="421.6" x2="124.8" y2="423.9" stroke="#111" stroke-width="1"/>
<text x="108.9" y="439.9" font-size="8.4" text-anchor="middle" textLength="7" lengthAdjust="spacingAndGlyphs" fill="#222" stroke="#222">FP</text>
<text transform="translate(73.7,393.5) rotate(-90)" font-size="7.9" text-anchor="middle" fill="#222" stroke="#222" textLength="6.6" lengthAdjust="spacingAndGlyphs">TP</text>
<text x="373" y="355.1" font-size="5.6" text-anchor="middle" textLength="16.7" lengthAdjust="spacingAndGlyphs" fill="#222" stroke="#222">t = 18,</text>
<text x="373" y="361.8" font-size="5.6" text-anchor="middle" fill="#222" stroke="#222">AUC = 0.73</text>
<line x1="354.8" y1="419.6" x2="389.1" y2="368.5" stroke="#111" stroke-width="1.25" stroke-dasharray="1.9 1.35"/>
<path d="M354.8,419.6 L354.8,410.91 L358.23,402.74 L361.66,393.54 L365.09,387.92 L368.18,382.3 L370.92,376.68 L377.09,376.68 L379.15,374.12 L384.3,368.5 L389.1,368.5" fill="none" stroke="#a0284c" stroke-width="1.15" stroke-linejoin="round"/>
<rect x="353.9" y="365.4" width="36.6" height="56.2" fill="none" stroke="#111" stroke-width="1.3"/>
<line x1="351" y1="419.6" x2="353.9" y2="419.6" stroke="#111" stroke-width="1"/>
<text x="350.4" y="421.6" font-size="5.9" text-anchor="end" fill="#333" stroke="#333">0.0</text>
<line x1="351" y1="409.38" x2="353.9" y2="409.38" stroke="#111" stroke-width="1"/>
<text x="350.4" y="411.38" font-size="5.9" text-anchor="end" fill="#333" stroke="#333">0.2</text>
<line x1="351" y1="399.16" x2="353.9" y2="399.16" stroke="#111" stroke-width="1"/>
<text x="350.4" y="401.16" font-size="5.9" text-anchor="end" fill="#333" stroke="#333">0.4</text>
<line x1="351" y1="388.94" x2="353.9" y2="388.94" stroke="#111" stroke-width="1"/>
<text x="350.4" y="390.94" font-size="5.9" text-anchor="end" fill="#333" stroke="#333">0.6</text>
<line x1="351" y1="378.72" x2="353.9" y2="378.72" stroke="#111" stroke-width="1"/>
<text x="350.4" y="380.72" font-size="5.9" text-anchor="end" fill="#333" stroke="#333">0.8</text>
<line x1="351" y1="368.5" x2="353.9" y2="368.5" stroke="#111" stroke-width="1"/>
<text x="350.4" y="370.5" font-size="5.9" text-anchor="end" fill="#333" stroke="#333">1.0</text>
<line x1="354.8" y1="421.6" x2="354.8" y2="423.9" stroke="#111" stroke-width="1"/>
<text x="354.8" y="430" font-size="5.9" text-anchor="middle" fill="#333" stroke="#333">0.0</text>
<line x1="361.66" y1="421.6" x2="361.66" y2="423.9" stroke="#111" stroke-width="1"/>
<line x1="368.52" y1="421.6" x2="368.52" y2="423.9" stroke="#111" stroke-width="1"/>
<text x="368.52" y="430" font-size="5.9" text-anchor="middle" fill="#333" stroke="#333">0.4</text>
<line x1="375.38" y1="421.6" x2="375.38" y2="423.9" stroke="#111" stroke-width="1"/>
<line x1="382.24" y1="421.6" x2="382.24" y2="423.9" stroke="#111" stroke-width="1"/>
<text x="382.24" y="430" font-size="5.9" text-anchor="middle" fill="#333" stroke="#333">0.8</text>
<line x1="389.1" y1="421.6" x2="389.1" y2="423.9" stroke="#111" stroke-width="1"/>
<text x="373.2" y="439.9" font-size="8.4" text-anchor="middle" textLength="7" lengthAdjust="spacingAndGlyphs" fill="#222" stroke="#222">FP</text>
<text transform="translate(338,393.5) rotate(-90)" font-size="7.9" text-anchor="middle" fill="#222" stroke="#222" textLength="6.6" lengthAdjust="spacingAndGlyphs">TP</text>
<text x="437.45" y="126.1" font-size="5.6" text-anchor="middle" textLength="16.7" lengthAdjust="spacingAndGlyphs" fill="#222" stroke="#222">t = 21,</text>
<text x="437.45" y="132.8" font-size="5.6" text-anchor="middle" fill="#222" stroke="#222">AUC = 0.82</text>
<line x1="419.25" y1="190.6" x2="453.55" y2="139.5" stroke="#111" stroke-width="1.25" stroke-dasharray="1.9 1.35"/>
<path d="M419.25,190.6 L419.35,171.69 L420.96,167.09 L423.37,161.98 L426.11,158.41 L429.88,154.83 L434.69,149.21 L438.8,144.61 L441.89,141.03 L444.63,139.5 L453.55,139.5" fill="none" stroke="#a0284c" stroke-width="1.15" stroke-linejoin="round"/>
<rect x="418.35" y="136.4" width="36.6" height="56.2" fill="none" stroke="#111" stroke-width="1.3"/>
<line x1="415.45" y1="190.6" x2="418.35" y2="190.6" stroke="#111" stroke-width="1"/>
<text x="414.85" y="192.6" font-size="5.9" text-anchor="end" fill="#333" stroke="#333">0.0</text>
<line x1="415.45" y1="180.38" x2="418.35" y2="180.38" stroke="#111" stroke-width="1"/>
<text x="414.85" y="182.38" font-size="5.9" text-anchor="end" fill="#333" stroke="#333">0.2</text>
<line x1="415.45" y1="170.16" x2="418.35" y2="170.16" stroke="#111" stroke-width="1"/>
<text x="414.85" y="172.16" font-size="5.9" text-anchor="end" fill="#333" stroke="#333">0.4</text>
<line x1="415.45" y1="159.94" x2="418.35" y2="159.94" stroke="#111" stroke-width="1"/>
<text x="414.85" y="161.94" font-size="5.9" text-anchor="end" fill="#333" stroke="#333">0.6</text>
<line x1="415.45" y1="149.72" x2="418.35" y2="149.72" stroke="#111" stroke-width="1"/>
<text x="414.85" y="151.72" font-size="5.9" text-anchor="end" fill="#333" stroke="#333">0.8</text>
<line x1="415.45" y1="139.5" x2="418.35" y2="139.5" stroke="#111" stroke-width="1"/>
<text x="414.85" y="141.5" font-size="5.9" text-anchor="end" fill="#333" stroke="#333">1.0</text>
<line x1="419.25" y1="192.6" x2="419.25" y2="194.9" stroke="#111" stroke-width="1"/>
<text x="419.25" y="201" font-size="5.9" text-anchor="middle" fill="#333" stroke="#333">0.0</text>
<line x1="426.11" y1="192.6" x2="426.11" y2="194.9" stroke="#111" stroke-width="1"/>
<line x1="432.97" y1="192.6" x2="432.97" y2="194.9" stroke="#111" stroke-width="1"/>
<text x="432.97" y="201" font-size="5.9" text-anchor="middle" fill="#333" stroke="#333">0.4</text>
<line x1="439.83" y1="192.6" x2="439.83" y2="194.9" stroke="#111" stroke-width="1"/>
<line x1="446.69" y1="192.6" x2="446.69" y2="194.9" stroke="#111" stroke-width="1"/>
<text x="446.69" y="201" font-size="5.9" text-anchor="middle" fill="#333" stroke="#333">0.8</text>
<line x1="453.55" y1="192.6" x2="453.55" y2="194.9" stroke="#111" stroke-width="1"/>
<text x="437.65" y="210.9" font-size="8.4" text-anchor="middle" textLength="7" lengthAdjust="spacingAndGlyphs" fill="#222" stroke="#222">FP</text>
<text transform="translate(402.45,164.5) rotate(-90)" font-size="7.9" text-anchor="middle" fill="#222" stroke="#222" textLength="6.6" lengthAdjust="spacingAndGlyphs">TP</text>
<text x="173.2" y="355.1" font-size="5.6" text-anchor="middle" textLength="16.7" lengthAdjust="spacingAndGlyphs" fill="#222" stroke="#222">t = 21,</text>
<text x="173.2" y="361.8" font-size="5.6" text-anchor="middle" fill="#222" stroke="#222">AUC = 0.68</text>
<line x1="155" y1="419.6" x2="189.3" y2="368.5" stroke="#111" stroke-width="1.25" stroke-dasharray="1.9 1.35"/>
<path d="M155,419.6 L156.72,419.09 L158.09,416.53 L159.46,412.19 L159.8,404.27 L160.49,398.14 L161.52,395.58 L162.03,395.07 L168.03,395.07 L169.75,393.03 L171.46,388.94 L173.18,382.81 L174.55,375.65 L175.24,368.5 L189.3,368.5" fill="none" stroke="#a0284c" stroke-width="1.15" stroke-linejoin="round"/>
<rect x="154.1" y="365.4" width="36.6" height="56.2" fill="none" stroke="#111" stroke-width="1.3"/>
<line x1="151.2" y1="419.6" x2="154.1" y2="419.6" stroke="#111" stroke-width="1"/>
<text x="150.6" y="421.6" font-size="5.9" text-anchor="end" fill="#333" stroke="#333">0.0</text>
<line x1="151.2" y1="409.38" x2="154.1" y2="409.38" stroke="#111" stroke-width="1"/>
<text x="150.6" y="411.38" font-size="5.9" text-anchor="end" fill="#333" stroke="#333">0.2</text>
<line x1="151.2" y1="399.16" x2="154.1" y2="399.16" stroke="#111" stroke-width="1"/>
<text x="150.6" y="401.16" font-size="5.9" text-anchor="end" fill="#333" stroke="#333">0.4</text>
<line x1="151.2" y1="388.94" x2="154.1" y2="388.94" stroke="#111" stroke-width="1"/>
<text x="150.6" y="390.94" font-size="5.9" text-anchor="end" fill="#333" stroke="#333">0.6</text>
<line x1="151.2" y1="378.72" x2="154.1" y2="378.72" stroke="#111" stroke-width="1"/>
<text x="150.6" y="380.72" font-size="5.9" text-anchor="end" fill="#333" stroke="#333">0.8</text>
<line x1="151.2" y1="368.5" x2="154.1" y2="368.5" stroke="#111" stroke-width="1"/>
<text x="150.6" y="370.5" font-size="5.9" text-anchor="end" fill="#333" stroke="#333">1.0</text>
<line x1="155" y1="421.6" x2="155" y2="423.9" stroke="#111" stroke-width="1"/>
<text x="155" y="430" font-size="5.9" text-anchor="middle" fill="#333" stroke="#333">0.0</text>
<line x1="161.86" y1="421.6" x2="161.86" y2="423.9" stroke="#111" stroke-width="1"/>
<line x1="168.72" y1="421.6" x2="168.72" y2="423.9" stroke="#111" stroke-width="1"/>
<text x="168.72" y="430" font-size="5.9" text-anchor="middle" fill="#333" stroke="#333">0.4</text>
<line x1="175.58" y1="421.6" x2="175.58" y2="423.9" stroke="#111" stroke-width="1"/>
<line x1="182.44" y1="421.6" x2="182.44" y2="423.9" stroke="#111" stroke-width="1"/>
<text x="182.44" y="430" font-size="5.9" text-anchor="middle" fill="#333" stroke="#333">0.8</text>
<line x1="189.3" y1="421.6" x2="189.3" y2="423.9" stroke="#111" stroke-width="1"/>
<text x="173.4" y="439.9" font-size="8.4" text-anchor="middle" textLength="7" lengthAdjust="spacingAndGlyphs" fill="#222" stroke="#222">FP</text>
<text transform="translate(138.2,393.5) rotate(-90)" font-size="7.9" text-anchor="middle" fill="#222" stroke="#222" textLength="6.6" lengthAdjust="spacingAndGlyphs">TP</text>
<text x="437.45" y="355.1" font-size="5.6" text-anchor="middle" textLength="16.7" lengthAdjust="spacingAndGlyphs" fill="#222" stroke="#222">t = 21,</text>
<text x="437.45" y="361.8" font-size="5.6" text-anchor="middle" fill="#222" stroke="#222">AUC = 0.73</text>
<line x1="419.25" y1="419.6" x2="453.55" y2="368.5" stroke="#111" stroke-width="1.25" stroke-dasharray="1.9 1.35"/>
<path d="M419.25,419.6 L419.25,410.91 L422.68,402.74 L426.11,393.54 L429.54,387.92 L432.63,382.3 L435.37,376.68 L441.55,376.68 L443.6,374.12 L448.75,368.5 L453.55,368.5" fill="none" stroke="#a0284c" stroke-width="1.15" stroke-linejoin="round"/>
<rect x="418.35" y="365.4" width="36.6" height="56.2" fill="none" stroke="#111" stroke-width="1.3"/>
<line x1="415.45" y1="419.6" x2="418.35" y2="419.6" stroke="#111" stroke-width="1"/>
<text x="414.85" y="421.6" font-size="5.9" text-anchor="end" fill="#333" stroke="#333">0.0</text>
<line x1="415.45" y1="409.38" x2="418.35" y2="409.38" stroke="#111" stroke-width="1"/>
<text x="414.85" y="411.38" font-size="5.9" text-anchor="end" fill="#333" stroke="#333">0.2</text>
<line x1="415.45" y1="399.16" x2="418.35" y2="399.16" stroke="#111" stroke-width="1"/>
<text x="414.85" y="401.16" font-size="5.9" text-anchor="end" fill="#333" stroke="#333">0.4</text>
<line x1="415.45" y1="388.94" x2="418.35" y2="388.94" stroke="#111" stroke-width="1"/>
<text x="414.85" y="390.94" font-size="5.9" text-anchor="end" fill="#333" stroke="#333">0.6</text>
<line x1="415.45" y1="378.72" x2="418.35" y2="378.72" stroke="#111" stroke-width="1"/>
<text x="414.85" y="380.72" font-size="5.9" text-anchor="end" fill="#333" stroke="#333">0.8</text>
<line x1="415.45" y1="368.5" x2="418.35" y2="368.5" stroke="#111" stroke-width="1"/>
<text x="414.85" y="370.5" font-size="5.9" text-anchor="end" fill="#333" stroke="#333">1.0</text>
<line x1="419.25" y1="421.6" x2="419.25" y2="423.9" stroke="#111" stroke-width="1"/>
<text x="419.25" y="430" font-size="5.9" text-anchor="middle" fill="#333" stroke="#333">0.0</text>
<line x1="426.11" y1="421.6" x2="426.11" y2="423.9" stroke="#111" stroke-width="1"/>
<line x1="432.97" y1="421.6" x2="432.97" y2="423.9" stroke="#111" stroke-width="1"/>
<text x="432.97" y="430" font-size="5.9" text-anchor="middle" fill="#333" stroke="#333">0.4</text>
<line x1="439.83" y1="421.6" x2="439.83" y2="423.9" stroke="#111" stroke-width="1"/>
<line x1="446.69" y1="421.6" x2="446.69" y2="423.9" stroke="#111" stroke-width="1"/>
<text x="446.69" y="430" font-size="5.9" text-anchor="middle" fill="#333" stroke="#333">0.8</text>
<line x1="453.55" y1="421.6" x2="453.55" y2="423.9" stroke="#111" stroke-width="1"/>
<text x="437.65" y="439.9" font-size="8.4" text-anchor="middle" textLength="7" lengthAdjust="spacingAndGlyphs" fill="#222" stroke="#222">FP</text>
<text transform="translate(402.45,393.5) rotate(-90)" font-size="7.9" text-anchor="middle" fill="#222" stroke="#222" textLength="6.6" lengthAdjust="spacingAndGlyphs">TP</text>
<text x="502.1" y="126.1" font-size="5.6" text-anchor="middle" textLength="16.7" lengthAdjust="spacingAndGlyphs" fill="#222" stroke="#222">t = 24,</text>
<text x="502.1" y="132.8" font-size="5.6" text-anchor="middle" fill="#222" stroke="#222">AUC = 0.82</text>
<line x1="483.9" y1="190.6" x2="518.2" y2="139.5" stroke="#111" stroke-width="1.25" stroke-dasharray="1.9 1.35"/>
<path d="M483.9,190.6 L484,171.69 L485.61,167.09 L488.02,161.98 L490.76,158.41 L494.53,154.83 L499.33,149.21 L503.45,144.61 L506.54,141.03 L509.28,139.5 L518.2,139.5" fill="none" stroke="#a0284c" stroke-width="1.15" stroke-linejoin="round"/>
<rect x="483" y="136.4" width="36.6" height="56.2" fill="none" stroke="#111" stroke-width="1.3"/>
<line x1="480.1" y1="190.6" x2="483" y2="190.6" stroke="#111" stroke-width="1"/>
<text x="479.5" y="192.6" font-size="5.9" text-anchor="end" fill="#333" stroke="#333">0.0</text>
<line x1="480.1" y1="180.38" x2="483" y2="180.38" stroke="#111" stroke-width="1"/>
<text x="479.5" y="182.38" font-size="5.9" text-anchor="end" fill="#333" stroke="#333">0.2</text>
<line x1="480.1" y1="170.16" x2="483" y2="170.16" stroke="#111" stroke-width="1"/>
<text x="479.5" y="172.16" font-size="5.9" text-anchor="end" fill="#333" stroke="#333">0.4</text>
<line x1="480.1" y1="159.94" x2="483" y2="159.94" stroke="#111" stroke-width="1"/>
<text x="479.5" y="161.94" font-size="5.9" text-anchor="end" fill="#333" stroke="#333">0.6</text>
<line x1="480.1" y1="149.72" x2="483" y2="149.72" stroke="#111" stroke-width="1"/>
<text x="479.5" y="151.72" font-size="5.9" text-anchor="end" fill="#333" stroke="#333">0.8</text>
<line x1="480.1" y1="139.5" x2="483" y2="139.5" stroke="#111" stroke-width="1"/>
<text x="479.5" y="141.5" font-size="5.9" text-anchor="end" fill="#333" stroke="#333">1.0</text>
<line x1="483.9" y1="192.6" x2="483.9" y2="194.9" stroke="#111" stroke-width="1"/>
<text x="483.9" y="201" font-size="5.9" text-anchor="middle" fill="#333" stroke="#333">0.0</text>
<line x1="490.76" y1="192.6" x2="490.76" y2="194.9" stroke="#111" stroke-width="1"/>
<line x1="497.62" y1="192.6" x2="497.62" y2="194.9" stroke="#111" stroke-width="1"/>
<text x="497.62" y="201" font-size="5.9" text-anchor="middle" fill="#333" stroke="#333">0.4</text>
<line x1="504.48" y1="192.6" x2="504.48" y2="194.9" stroke="#111" stroke-width="1"/>
<line x1="511.34" y1="192.6" x2="511.34" y2="194.9" stroke="#111" stroke-width="1"/>
<text x="511.34" y="201" font-size="5.9" text-anchor="middle" fill="#333" stroke="#333">0.8</text>
<line x1="518.2" y1="192.6" x2="518.2" y2="194.9" stroke="#111" stroke-width="1"/>
<text x="502.3" y="210.9" font-size="8.4" text-anchor="middle" textLength="7" lengthAdjust="spacingAndGlyphs" fill="#222" stroke="#222">FP</text>
<text transform="translate(467.1,164.5) rotate(-90)" font-size="7.9" text-anchor="middle" fill="#222" stroke="#222" textLength="6.6" lengthAdjust="spacingAndGlyphs">TP</text>
<text x="237.8" y="355.1" font-size="5.6" text-anchor="middle" textLength="16.7" lengthAdjust="spacingAndGlyphs" fill="#222" stroke="#222">t = 24,</text>
<text x="237.8" y="361.8" font-size="5.6" text-anchor="middle" fill="#222" stroke="#222">AUC = 0.68</text>
<line x1="219.6" y1="419.6" x2="253.9" y2="368.5" stroke="#111" stroke-width="1.25" stroke-dasharray="1.9 1.35"/>
<path d="M219.6,419.6 L221.31,419.09 L222.69,416.53 L224.06,412.19 L224.4,404.27 L225.09,398.14 L226.12,395.58 L226.63,395.07 L232.63,395.07 L234.35,393.03 L236.06,388.94 L237.78,382.81 L239.15,375.65 L239.84,368.5 L253.9,368.5" fill="none" stroke="#a0284c" stroke-width="1.15" stroke-linejoin="round"/>
<rect x="218.7" y="365.4" width="36.6" height="56.2" fill="none" stroke="#111" stroke-width="1.3"/>
<line x1="215.8" y1="419.6" x2="218.7" y2="419.6" stroke="#111" stroke-width="1"/>
<text x="215.2" y="421.6" font-size="5.9" text-anchor="end" fill="#333" stroke="#333">0.0</text>
<line x1="215.8" y1="409.38" x2="218.7" y2="409.38" stroke="#111" stroke-width="1"/>
<text x="215.2" y="411.38" font-size="5.9" text-anchor="end" fill="#333" stroke="#333">0.2</text>
<line x1="215.8" y1="399.16" x2="218.7" y2="399.16" stroke="#111" stroke-width="1"/>
<text x="215.2" y="401.16" font-size="5.9" text-anchor="end" fill="#333" stroke="#333">0.4</text>
<line x1="215.8" y1="388.94" x2="218.7" y2="388.94" stroke="#111" stroke-width="1"/>
<text x="215.2" y="390.94" font-size="5.9" text-anchor="end" fill="#333" stroke="#333">0.6</text>
<line x1="215.8" y1="378.72" x2="218.7" y2="378.72" stroke="#111" stroke-width="1"/>
<text x="215.2" y="380.72" font-size="5.9" text-anchor="end" fill="#333" stroke="#333">0.8</text>
<line x1="215.8" y1="368.5" x2="218.7" y2="368.5" stroke="#111" stroke-width="1"/>
<text x="215.2" y="370.5" font-size="5.9" text-anchor="end" fill="#333" stroke="#333">1.0</text>
<line x1="219.6" y1="421.6" x2="219.6" y2="423.9" stroke="#111" stroke-width="1"/>
<text x="219.6" y="430" font-size="5.9" text-anchor="middle" fill="#333" stroke="#333">0.0</text>
<line x1="226.46" y1="421.6" x2="226.46" y2="423.9" stroke="#111" stroke-width="1"/>
<line x1="233.32" y1="421.6" x2="233.32" y2="423.9" stroke="#111" stroke-width="1"/>
<text x="233.32" y="430" font-size="5.9" text-anchor="middle" fill="#333" stroke="#333">0.4</text>
<line x1="240.18" y1="421.6" x2="240.18" y2="423.9" stroke="#111" stroke-width="1"/>
<line x1="247.04" y1="421.6" x2="247.04" y2="423.9" stroke="#111" stroke-width="1"/>
<text x="247.04" y="430" font-size="5.9" text-anchor="middle" fill="#333" stroke="#333">0.8</text>
<line x1="253.9" y1="421.6" x2="253.9" y2="423.9" stroke="#111" stroke-width="1"/>
<text x="238" y="439.9" font-size="8.4" text-anchor="middle" textLength="7" lengthAdjust="spacingAndGlyphs" fill="#222" stroke="#222">FP</text>
<text transform="translate(202.8,393.5) rotate(-90)" font-size="7.9" text-anchor="middle" fill="#222" stroke="#222" textLength="6.6" lengthAdjust="spacingAndGlyphs">TP</text>
<text x="502.1" y="355.1" font-size="5.6" text-anchor="middle" textLength="16.7" lengthAdjust="spacingAndGlyphs" fill="#222" stroke="#222">t = 24,</text>
<text x="502.1" y="361.8" font-size="5.6" text-anchor="middle" fill="#222" stroke="#222">AUC = 0.73</text>
<line x1="483.9" y1="419.6" x2="518.2" y2="368.5" stroke="#111" stroke-width="1.25" stroke-dasharray="1.9 1.35"/>
<path d="M483.9,419.6 L483.9,410.91 L487.33,402.74 L490.76,393.54 L494.19,387.92 L497.28,382.3 L500.02,376.68 L506.19,376.68 L508.25,374.12 L513.4,368.5 L518.2,368.5" fill="none" stroke="#a0284c" stroke-width="1.15" stroke-linejoin="round"/>
<rect x="483" y="365.4" width="36.6" height="56.2" fill="none" stroke="#111" stroke-width="1.3"/>
<line x1="480.1" y1="419.6" x2="483" y2="419.6" stroke="#111" stroke-width="1"/>
<text x="479.5" y="421.6" font-size="5.9" text-anchor="end" fill="#333" stroke="#333">0.0</text>
<line x1="480.1" y1="409.38" x2="483" y2="409.38" stroke="#111" stroke-width="1"/>
<text x="479.5" y="411.38" font-size="5.9" text-anchor="end" fill="#333" stroke="#333">0.2</text>
<line x1="480.1" y1="399.16" x2="483" y2="399.16" stroke="#111" stroke-width="1"/>
<text x="479.5" y="401.16" font-size="5.9" text-anchor="end" fill="#333" stroke="#333">0.4</text>
<line x1="480.1" y1="388.94" x2="483" y2="388.94" stroke="#111" stroke-width="1"/>
<text x="479.5" y="390.94" font-size="5.9" text-anchor="end" fill="#333" stroke="#333">0.6</text>
<line x1="480.1" y1="378.72" x2="483" y2="378.72" stroke="#111" stroke-width="1"/>
<text x="479.5" y="380.72" font-size="5.9" text-anchor="end" fill="#333" stroke="#333">0.8</text>
<line x1="480.1" y1="368.5" x2="483" y2="368.5" stroke="#111" stroke-width="1"/>
<text x="479.5" y="370.5" font-size="5.9" text-anchor="end" fill="#333" stroke="#333">1.0</text>
<line x1="483.9" y1="421.6" x2="483.9" y2="423.9" stroke="#111" stroke-width="1"/>
<text x="483.9" y="430" font-size="5.9" text-anchor="middle" fill="#333" stroke="#333">0.0</text>
<line x1="490.76" y1="421.6" x2="490.76" y2="423.9" stroke="#111" stroke-width="1"/>
<line x1="497.62" y1="421.6" x2="497.62" y2="423.9" stroke="#111" stroke-width="1"/>
<text x="497.62" y="430" font-size="5.9" text-anchor="middle" fill="#333" stroke="#333">0.4</text>
<line x1="504.48" y1="421.6" x2="504.48" y2="423.9" stroke="#111" stroke-width="1"/>
<line x1="511.34" y1="421.6" x2="511.34" y2="423.9" stroke="#111" stroke-width="1"/>
<text x="511.34" y="430" font-size="5.9" text-anchor="middle" fill="#333" stroke="#333">0.8</text>
<line x1="518.2" y1="421.6" x2="518.2" y2="423.9" stroke="#111" stroke-width="1"/>
<text x="502.3" y="439.9" font-size="8.4" text-anchor="middle" textLength="7" lengthAdjust="spacingAndGlyphs" fill="#222" stroke="#222">FP</text>
<text transform="translate(467.1,393.5) rotate(-90)" font-size="7.9" text-anchor="middle" fill="#222" stroke="#222" textLength="6.6" lengthAdjust="spacingAndGlyphs">TP</text>
</svg>
</body></html>
